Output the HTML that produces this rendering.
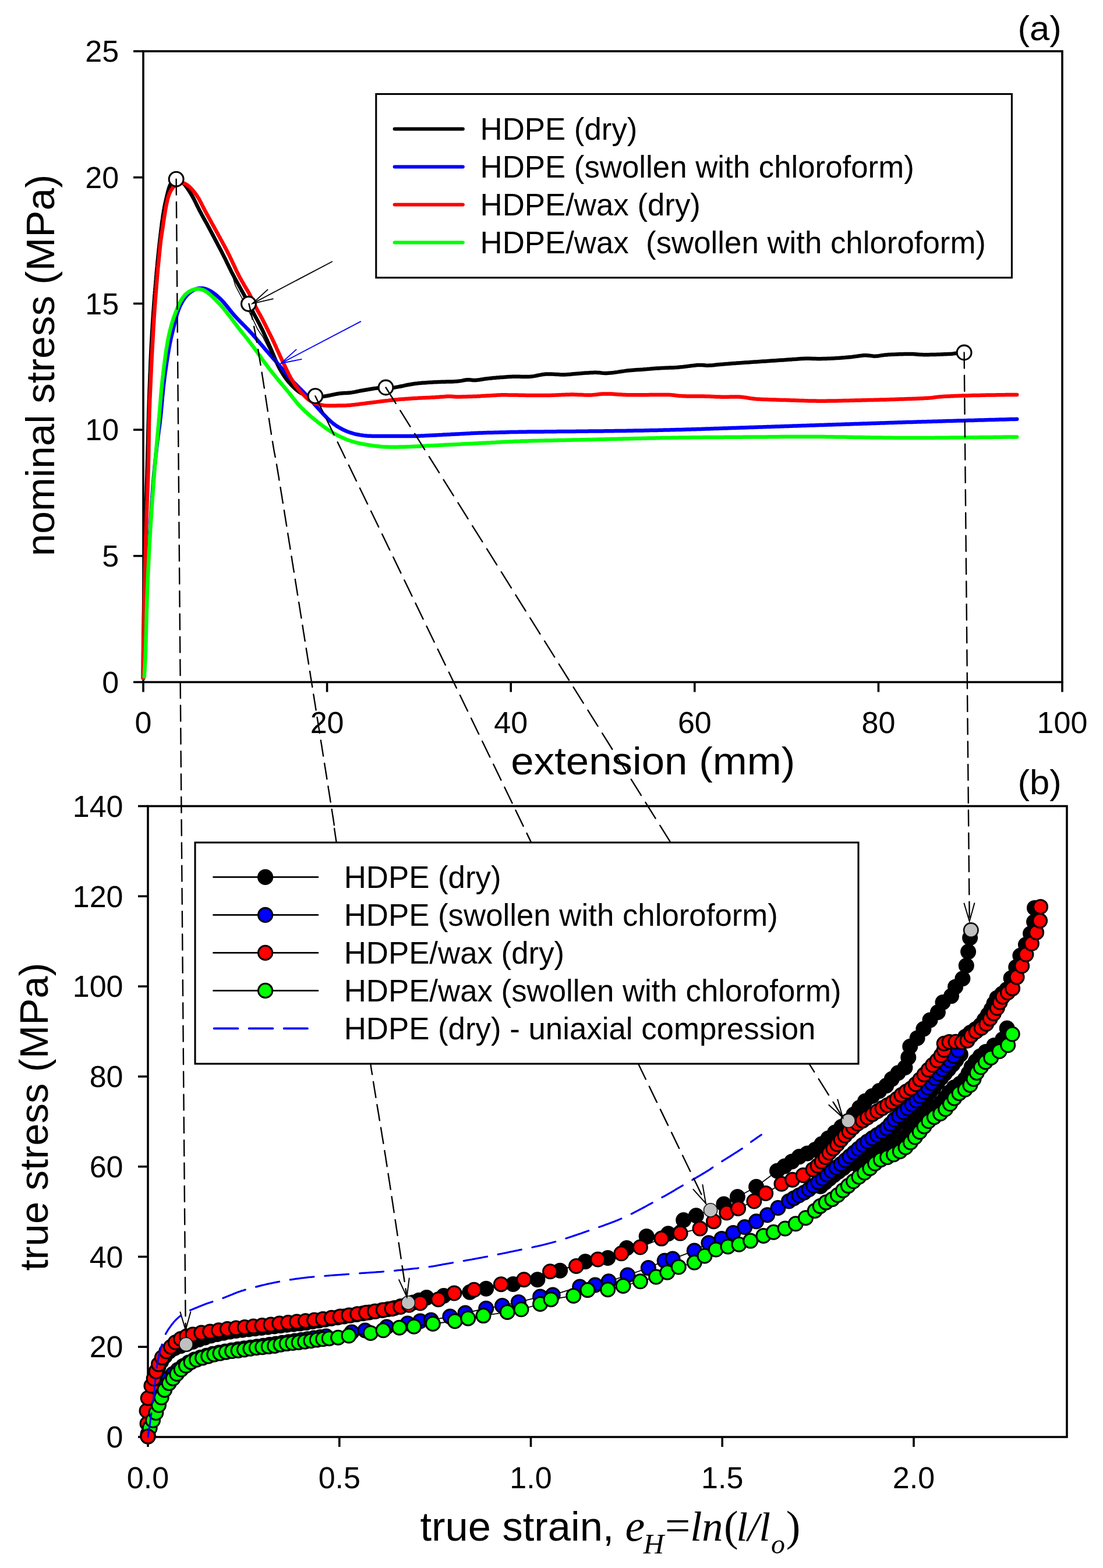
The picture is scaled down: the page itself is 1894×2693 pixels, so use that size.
<!DOCTYPE html><html><head><meta charset="utf-8"><title>Stress-strain curves of HDPE</title>
<style>html,body{margin:0;padding:0;background:#fff;}svg{display:block;}text{font-family:"Liberation Sans",Arial,sans-serif;fill:#000;}.serif{font-family:"Liberation Serif","Times New Roman",serif;}</style></head><body>
<svg width="1894" height="2693" viewBox="0 0 1894 2693">
<rect width="1894" height="2693" fill="#fff"/>
<g stroke="#000" stroke-width="3.6" fill="none" stroke-linecap="butt" stroke-linejoin="miter">
<rect x="246" y="88" width="1578" height="1083.5"/>
<line x1="229" y1="1171.5" x2="246" y2="1171.5"/>
<line x1="229" y1="954.8" x2="246" y2="954.8"/>
<line x1="229" y1="738.1" x2="246" y2="738.1"/>
<line x1="229" y1="521.4" x2="246" y2="521.4"/>
<line x1="229" y1="304.7" x2="246" y2="304.7"/>
<line x1="229" y1="88" x2="246" y2="88"/>
<line x1="246" y1="1171.5" x2="246" y2="1188.5"/>
<line x1="561.6" y1="1171.5" x2="561.6" y2="1188.5"/>
<line x1="877.2" y1="1171.5" x2="877.2" y2="1188.5"/>
<line x1="1192.8" y1="1171.5" x2="1192.8" y2="1188.5"/>
<line x1="1508.4" y1="1171.5" x2="1508.4" y2="1188.5"/>
<line x1="1824" y1="1171.5" x2="1824" y2="1188.5"/>
</g>
<path d="M245.7,1164.4 245.7,1161.4 245.7,1158.4 245.7,1155.4 245.7,1152.4 245.7,1149.4 245.8,1146.4 245.8,1143.4 245.8,1140.4 245.8,1137.4 245.8,1134.4 245.9,1131.4 245.9,1128.4 245.9,1125.4 245.9,1122.4 246,1119.4 246,1116.4 246.1,1113.4 246.1,1110.4 246.1,1107.4 246.2,1104.4 246.2,1101.4 246.3,1098.4 246.3,1095.4 246.3,1092.4 246.4,1089.4 246.4,1086.4 246.5,1083.4 246.5,1080.4 246.6,1077.4 246.6,1074.4 246.7,1071.4 246.7,1068.4 246.7,1065.4 246.8,1062.4 246.8,1059.4 246.9,1056.4 246.9,1053.4 247,1050.4 247,1047.4 247.1,1044.4 247.1,1041.4 247.2,1038.4 247.2,1035.4 247.3,1032.4 247.3,1029.4 247.4,1026.4 247.4,1023.4 247.5,1020.4 247.5,1017.4 247.6,1014.4 247.6,1011.4 247.7,1008.4 247.8,1005.4 247.8,1002.4 247.9,999.4 247.9,996.4 248,993.4 248,990.4 248.1,987.4 248.2,984.4 248.2,981.4 248.3,978.4 248.3,975.4 248.4,972.4 248.5,969.4 248.5,966.4 248.6,963.4 248.6,960.4 248.7,957.4 248.8,954.4 248.8,951.4 248.9,948.4 249,945.4 249,942.4 249.1,939.4 249.2,936.4 249.2,933.4 249.3,930.4 249.4,927.4 249.4,924.4 249.5,921.4 249.6,918.4 249.6,915.4 249.7,912.4 249.8,909.4 249.9,906.4 249.9,903.4 250,900.4 250.1,897.4 250.2,894.4 250.3,891.4 250.3,888.4 250.4,885.4 250.5,882.4 250.6,879.4 250.7,876.4 250.8,873.4 250.9,870.4 251,867.4 251,864.4 251.1,861.4 251.2,858.4 251.3,855.4 251.4,852.4 251.5,849.4 251.6,846.4 251.7,843.4 251.8,840.4 251.8,837.4 251.9,834.4 252,831.4 252.1,828.4 252.2,825.4 252.3,822.4 252.4,819.4 252.5,816.4 252.6,813.4 252.6,810.4 252.7,807.4 252.8,804.4 252.9,801.4 253,798.4 253,795.4 253.1,792.4 253.2,789.4 253.3,786.4 253.4,783.4 253.4,780.4 253.5,777.4 253.6,774.4 253.7,771.4 253.7,768.4 253.8,765.4 253.9,762.4 254,759.4 254,756.4 254.1,753.4 254.2,750.4 254.3,747.4 254.3,744.4 254.4,741.4 254.5,738.4 254.6,735.4 254.6,732.4 254.7,729.4 254.8,726.4 254.9,723.4 255,720.4 255.1,717.4 255.2,714.4 255.2,711.4 255.3,708.4 255.4,705.4 255.5,702.4 255.6,699.4 255.7,696.4 255.8,693.4 255.9,690.4 256,687.4 256.1,684.4 256.2,681.4 256.3,678.4 256.4,675.4 256.5,672.4 256.6,669.4 256.7,666.4 256.9,663.4 257,660.4 257.1,657.4 257.2,654.4 257.3,651.4 257.4,648.4 257.5,645.4 257.6,642.4 257.8,639.4 257.9,636.5 258,633.5 258.1,630.5 258.3,627.5 258.4,624.5 258.5,621.5 258.6,618.5 258.8,615.5 258.9,612.5 259,609.5 259.2,606.5 259.3,603.5 259.5,600.5 259.6,597.5 259.8,594.5 259.9,591.5 260.1,588.5 260.3,585.5 260.4,582.5 260.6,579.5 260.8,576.5 260.9,573.5 261.1,570.5 261.3,567.5 261.5,564.5 261.7,561.5 261.8,558.5 262,555.5 262.2,552.5 262.4,549.6 262.6,546.6 262.8,543.6 263,540.6 263.2,537.6 263.5,534.6 263.7,531.6 263.9,528.6 264.1,525.6 264.3,522.6 264.5,519.6 264.8,516.6 265,513.6 265.2,510.6 265.4,507.7 265.7,504.7 265.9,501.7 266.2,498.7 266.4,495.7 266.7,492.7 266.9,489.7 267.2,486.7 267.4,483.7 267.7,480.7 267.9,477.8 268.2,474.8 268.5,471.8 268.7,468.8 269,465.8 269.3,462.8 269.6,459.8 269.9,456.8 270.1,453.8 270.4,450.9 270.7,447.9 271,444.9 271.3,441.9 271.6,438.9 271.9,435.9 272.2,432.9 272.5,430 272.8,427 273.2,424 273.5,421 273.8,418 274.2,415 274.5,412.1 274.8,409.1 275.2,406.1 275.5,403.1 275.9,400.1 276.2,397.2 276.6,394.2 277,391.2 277.4,388.2 277.7,385.3 278.1,382.3 278.5,379.3 279,376.3 279.4,373.4 279.8,370.4 280.3,367.4 280.8,364.5 281.2,361.5 281.8,358.6 282.3,355.6 282.9,352.7 283.5,349.7 284.2,346.8 284.8,343.9 285.5,341 286.2,338 286.9,335.1 287.6,332.2 288.3,329.3 289.1,326.4 289.9,323.5 290.9,320.7 292,317.9 293.5,315.3 295.2,313 297.2,310.9 299.6,309.4 302.2,308.7 304.9,308.9 307.6,309.8 310.2,311.2 312.7,312.9 314.9,314.8 317,317 318.8,319.3 320.6,321.7 322.3,324.2 324,326.7 325.6,329.2 327.2,331.8 328.7,334.3 330.2,336.9 331.7,339.6 333.1,342.2 334.4,344.9 335.8,347.6 337.1,350.3 338.4,353 339.7,355.6 341.1,358.3 342.4,361 343.8,363.7 345.2,366.3 346.6,369 348.1,371.6 349.5,374.2 351,376.9 352.4,379.5 353.9,382.1 355.4,384.7 356.8,387.4 358.2,390 359.6,392.6 361,395.3 362.4,397.9 363.8,400.6 365.2,403.3 366.6,405.9 368,408.6 369.4,411.3 370.8,413.9 372.2,416.6 373.6,419.2 375,421.9 376.4,424.5 377.8,427.2 379.2,429.8 380.6,432.5 381.9,435.2 383.3,437.8 384.6,440.5 386,443.2 387.3,445.9 388.6,448.6 389.9,451.3 391.2,454 392.5,456.7 393.8,459.4 395.2,462.1 396.5,464.8 397.8,467.5 399.2,470.1 400.6,472.8 402,475.4 403.4,478.1 404.9,480.7 406.3,483.3 407.8,486 409.2,488.6 410.7,491.2 412.1,493.8 413.6,496.5 415,499.1 416.5,501.7 417.9,504.3 419.4,507 420.8,509.6 422.3,512.2 423.7,514.9 425.1,517.5 426.6,520.1 427.9,522.8 429.3,525.5 430.6,528.2 431.9,530.9 433.3,533.6 434.6,536.2 436,538.9 437.4,541.6 438.8,544.2 440.2,546.8 441.7,549.5 443.1,552.1 444.5,554.8 445.9,557.4 447.2,560.1 448.6,562.8 449.9,565.5 451.2,568.2 452.5,570.9 453.7,573.6 455,576.4 456.2,579.1 457.5,581.8 458.7,584.6 459.9,587.3 461.1,590.1 462.3,592.8 463.5,595.6 464.7,598.3 465.9,601.1 467.1,603.8 468.2,606.6 469.4,609.4 470.6,612.1 471.7,614.9 472.9,617.7 474.1,620.4 475.3,623.2 476.5,625.9 477.9,628.6 479.2,631.3 480.6,633.9 482.1,636.5 483.6,639.1 485.2,641.6 486.8,644.2 488.5,646.6 490.3,649.1 492,651.5 493.9,653.9 495.8,656.2 497.8,658.4 499.8,660.7 501.8,662.8 504,665 506.1,667 508.4,669 510.7,670.9 513.1,672.7 515.6,674.4 518.2,675.8 520.9,677.1 523.7,678.1 526.6,678.9 529.5,679.4 532.5,679.7 535.4,679.9 538.4,680.1 541.4,680.3 544.4,680.6 547.4,680.9 550.4,681 553.4,680.9 556.3,680.7 559.3,680.3 562.3,679.8 565.2,679.2 568.1,678.6 571.1,678 574,677.4 577,676.8 579.9,676.3 582.9,675.8 585.9,675.4 588.8,675.2 591.8,675.1 594.8,675 597.8,674.8 600.8,674.6 603.8,674.1 606.7,673.6 609.7,673.1 612.6,672.5 615.5,671.9 618.5,671.3 621.4,670.7 624.4,670.2 627.3,669.7 630.3,669.2 633.3,668.7 636.2,668.2 639.2,667.7 642.1,667.3 645.1,666.9 648.1,666.5 651.1,666.2 654.1,665.9 657.1,665.7 660.1,665.6 663.1,665.6 666,665.7 669,665.8 672,665.8 675,665.7 678,665.4 681,664.9 683.9,664.4 686.9,663.8 689.8,663.2 692.7,662.6 695.7,661.9 698.6,661.3 701.5,660.7 704.5,660.2 707.4,659.7 710.4,659.2 713.4,658.8 716.4,658.5 719.3,658.1 722.3,657.9 725.3,657.6 728.3,657.4 731.3,657.2 734.3,657 737.3,656.8 740.3,656.7 743.3,656.5 746.3,656.3 749.3,656.2 752.3,656 755.3,655.9 758.3,655.8 761.3,655.7 764.3,655.7 767.3,655.6 770.3,655.5 773.3,655.5 776.3,655.4 779.3,655.2 782.3,655.1 785.3,654.9 788.2,654.5 791.2,654.1 794.2,653.6 797.1,653 800,652.5 803,652.2 805.9,652.2 808.8,652.6 811.7,652.9 814.6,653.1 817.6,652.9 820.6,652.6 823.6,652.2 826.5,651.7 829.5,651.3 832.5,650.8 835.4,650.4 838.4,650.1 841.4,649.7 844.4,649.4 847.4,649.1 850.4,648.9 853.3,648.6 856.3,648.4 859.3,648.1 862.3,647.9 865.3,647.7 868.3,647.5 871.3,647.3 874.3,647.1 877.3,647 880.3,646.8 883.3,646.8 886.3,646.7 889.3,646.7 892.3,646.8 895.3,646.9 898.3,646.9 901.3,647 904.3,647 907.3,646.9 910.3,646.8 913.3,646.5 916.2,646.1 919.2,645.6 922.1,645 925.1,644.4 928,643.9 931,643.3 933.9,642.9 936.9,642.6 939.9,642.4 942.9,642.4 945.9,642.4 948.9,642.6 951.9,642.7 954.9,642.9 957.9,643.1 960.9,643.3 963.9,643.4 966.9,643.4 969.9,643.4 972.9,643.3 975.9,643.1 978.9,642.9 981.8,642.6 984.8,642.3 987.8,642 990.8,641.7 993.8,641.4 996.8,641.2 999.8,640.9 1002.8,640.7 1005.8,640.5 1008.7,640.4 1011.7,640.2 1014.7,640 1017.7,639.9 1020.7,639.8 1023.7,639.8 1026.7,639.9 1029.7,640.1 1032.7,640.5 1035.7,640.8 1038.6,641 1041.6,641 1044.6,640.8 1047.6,640.6 1050.6,640.2 1053.6,639.9 1056.5,639.5 1059.5,639.1 1062.5,638.6 1065.5,638.2 1068.4,637.8 1071.4,637.4 1074.4,636.9 1077.3,636.5 1080.3,636.2 1083.3,635.9 1086.3,635.7 1089.3,635.5 1092.3,635.3 1095.3,635.1 1098.3,634.9 1101.3,634.7 1104.3,634.5 1107.2,634.2 1110.2,634 1113.2,633.7 1116.2,633.5 1119.2,633.2 1122.2,633 1125.2,632.8 1128.2,632.6 1131.2,632.4 1134.2,632.2 1137.2,632.1 1140.2,631.9 1143.2,631.8 1146.2,631.7 1149.2,631.6 1152.2,631.5 1155.2,631.4 1158.2,631.2 1161.1,631.1 1164.1,630.9 1167.1,630.6 1170.1,630.3 1173.1,630 1176.1,629.6 1179.1,629.3 1182,628.9 1185,628.5 1188,628.1 1191,627.8 1193.9,627.4 1196.9,627.1 1199.9,626.9 1202.9,626.9 1205.9,627 1208.9,627.3 1211.8,627.6 1214.8,627.7 1217.8,627.6 1220.8,627.4 1223.8,627.2 1226.8,626.9 1229.7,626.6 1232.7,626.3 1235.7,626 1238.7,625.7 1241.7,625.5 1244.7,625.2 1247.7,625 1250.7,624.8 1253.7,624.5 1256.6,624.3 1259.6,624.1 1262.6,623.9 1265.6,623.6 1268.6,623.4 1271.6,623.2 1274.6,623 1277.6,622.8 1280.6,622.6 1283.6,622.4 1286.6,622.2 1289.6,622 1292.6,621.8 1295.6,621.6 1298.6,621.4 1301.5,621.2 1304.5,621 1307.5,620.8 1310.5,620.6 1313.5,620.4 1316.5,620.2 1319.5,620 1322.5,619.8 1325.5,619.6 1328.5,619.4 1331.5,619.2 1334.5,619 1337.5,618.8 1340.5,618.6 1343.5,618.4 1346.5,618.2 1349.5,618 1352.4,617.8 1355.4,617.6 1358.4,617.4 1361.4,617.1 1364.4,616.9 1367.4,616.7 1370.4,616.4 1373.4,616.2 1376.4,616 1379.4,615.9 1382.4,615.8 1385.4,615.7 1388.4,615.7 1391.4,615.8 1394.4,615.9 1397.4,616 1400.4,616.1 1403.4,616.2 1406.4,616.2 1409.4,616.2 1412.4,616.1 1415.4,616.1 1418.4,616 1421.4,615.8 1424.4,615.7 1427.4,615.6 1430.4,615.4 1433.4,615.3 1436.4,615.1 1439.3,614.9 1442.3,614.7 1445.3,614.5 1448.3,614.3 1451.3,614.1 1454.3,613.8 1457.3,613.5 1460.3,613.2 1463.3,612.9 1466.2,612.5 1469.2,612.1 1472.2,611.7 1475.2,611.3 1478.1,610.9 1481.1,610.6 1484.1,610.3 1487.1,610.3 1490.1,610.4 1493,610.7 1496,611.1 1499,611.5 1501.9,611.7 1504.9,611.6 1507.9,611.4 1510.8,610.9 1513.8,610.4 1516.8,610 1519.7,609.6 1522.7,609.4 1525.7,609.1 1528.7,609 1531.7,608.8 1534.7,608.7 1537.7,608.6 1540.7,608.4 1543.7,608.3 1546.7,608.2 1549.7,608.2 1552.7,608.1 1555.7,608 1558.7,608 1561.7,607.9 1564.7,608 1567.7,608 1570.7,608.2 1573.7,608.4 1576.7,608.7 1579.7,609 1582.7,609.1 1585.7,609.2 1588.6,609.3 1591.6,609.2 1594.6,609.2 1597.6,609.1 1600.6,609 1603.6,609 1606.6,608.9 1609.6,608.8 1612.6,608.7 1615.6,608.6 1618.6,608.4 1621.6,608.3 1624.6,608.2 1627.6,608.1 1630.6,607.9 1633.6,607.7 1636.6,607.4 1639.6,607 1642.5,606.6 1645.5,606.3 1648.5,606 1651.5,605.8 1654.5,605.7 1655.5,605.6" fill="none" stroke="#000" stroke-width="6.5" stroke-linejoin="round" stroke-linecap="round"/>
<path d="M246.3,1165 246.4,1162 246.5,1159 246.6,1156 246.7,1153 246.8,1150 246.9,1147 247,1144 247.1,1141 247.2,1138 247.3,1135 247.4,1132 247.5,1129 247.6,1126 247.7,1123 247.8,1120 247.9,1117 248,1114 248.1,1111 248.2,1108 248.3,1105 248.4,1102 248.5,1099 248.6,1096 248.8,1093 248.9,1090 249,1087 249.1,1084 249.2,1081 249.3,1078 249.4,1075 249.5,1072 249.6,1069 249.7,1066 249.8,1063 249.9,1060 250.1,1057 250.2,1054 250.3,1051 250.4,1048 250.5,1045 250.6,1042 250.8,1039 250.9,1036 251,1033 251.1,1030 251.2,1027 251.4,1024 251.5,1021 251.6,1018 251.8,1015 251.9,1012 252.1,1009 252.2,1006 252.3,1003 252.5,1000 252.6,997.1 252.8,994.1 252.9,991.1 253.1,988.1 253.3,985.1 253.4,982.1 253.6,979.1 253.7,976.1 253.9,973.1 254.1,970.1 254.2,967.1 254.4,964.1 254.6,961.1 254.7,958.1 254.9,955.1 255.1,952.1 255.3,949.1 255.4,946.1 255.6,943.1 255.8,940.1 256,937.1 256.1,934.1 256.3,931.1 256.5,928.1 256.7,925.1 256.9,922.1 257.1,919.1 257.2,916.1 257.4,913.2 257.6,910.2 257.8,907.2 258,904.2 258.2,901.2 258.3,898.2 258.5,895.2 258.7,892.2 258.9,889.2 259.1,886.2 259.3,883.2 259.5,880.2 259.7,877.2 259.9,874.2 260,871.2 260.2,868.2 260.4,865.2 260.6,862.2 260.8,859.2 261.1,856.2 261.3,853.2 261.5,850.3 261.7,847.3 261.9,844.3 262.1,841.3 262.4,838.3 262.6,835.3 262.8,832.3 263.1,829.3 263.3,826.3 263.6,823.3 263.8,820.3 264.1,817.3 264.4,814.4 264.6,811.4 264.9,808.4 265.2,805.4 265.5,802.4 265.8,799.4 266.1,796.4 266.4,793.4 266.7,790.5 267,787.5 267.3,784.5 267.6,781.5 268,778.5 268.3,775.5 268.6,772.6 268.9,769.6 269.3,766.6 269.6,763.6 270,760.6 270.3,757.6 270.7,754.7 271.1,751.7 271.5,748.7 271.9,745.7 272.3,742.8 272.7,739.8 273.1,736.8 273.6,733.9 274,730.9 274.4,727.9 274.7,724.9 275.1,722 275.4,719 275.8,716 276.1,713 276.4,710 276.7,707 276.9,704 277.2,701.1 277.5,698.1 277.8,695.1 278,692.1 278.3,689.1 278.6,686.1 278.8,683.1 279.1,680.1 279.4,677.1 279.7,674.2 280,671.2 280.3,668.2 280.6,665.2 280.9,662.2 281.3,659.2 281.6,656.3 282,653.3 282.4,650.3 282.7,647.3 283.1,644.3 283.5,641.4 283.9,638.4 284.4,635.4 284.8,632.5 285.2,629.5 285.6,626.5 286.1,623.5 286.5,620.6 287,617.6 287.5,614.6 287.9,611.7 288.4,608.7 288.9,605.8 289.4,602.8 289.9,599.8 290.4,596.9 291,593.9 291.5,591 292.1,588 292.7,585.1 293.4,582.2 294,579.2 294.7,576.3 295.4,573.4 296.1,570.5 296.8,567.6 297.5,564.7 298.3,561.8 299,558.8 299.7,555.9 300.5,553 301.2,550.1 302,547.2 302.7,544.3 303.5,541.4 304.4,538.6 305.3,535.7 306.3,532.9 307.4,530.1 308.5,527.3 309.7,524.6 311.1,521.9 312.5,519.3 314,516.7 315.6,514.2 317.3,511.7 319.1,509.4 321,507.1 323.1,505 325.3,503.1 327.6,501.2 330.1,499.6 332.6,498.1 335.2,496.9 337.9,495.9 340.7,495.2 343.6,494.9 346.4,494.9 349.3,495.3 352.1,495.9 354.9,496.8 357.6,497.9 360.2,499.3 362.8,500.7 365.3,502.4 367.7,504.1 370.1,505.9 372.4,507.8 374.6,509.8 376.8,511.8 379,513.9 381.1,516.1 383.1,518.2 385.1,520.5 387,522.8 388.9,525.1 390.8,527.4 392.7,529.8 394.5,532.1 396.4,534.4 398.3,536.8 400.3,539.1 402.2,541.3 404.2,543.6 406.2,545.8 408.3,548 410.4,550.1 412.4,552.3 414.5,554.4 416.7,556.6 418.8,558.7 420.9,560.8 423,563 425.1,565.1 427.2,567.3 429.2,569.5 431.3,571.7 433.3,573.9 435.2,576.2 437.2,578.4 439.2,580.7 441.1,583 443,585.3 445,587.6 446.9,589.9 448.9,592.1 450.8,594.4 452.8,596.7 454.7,599 456.7,601.3 458.7,603.5 460.6,605.8 462.6,608 464.6,610.3 466.6,612.6 468.5,614.8 470.5,617.1 472.5,619.3 474.4,621.6 476.4,623.9 478.3,626.2 480.3,628.5 482.2,630.8 484.2,633.1 486.1,635.3 488,637.6 490,639.9 491.9,642.2 493.8,644.5 495.8,646.8 497.7,649.1 499.7,651.3 501.7,653.6 503.7,655.8 505.8,658 507.9,660.1 510,662.3 512.1,664.4 514.2,666.5 516.4,668.6 518.5,670.7 520.6,672.9 522.7,675 524.7,677.2 526.8,679.4 528.8,681.6 530.8,683.9 532.8,686.1 534.7,688.4 536.7,690.6 538.7,692.9 540.7,695.2 542.7,697.4 544.7,699.6 546.7,701.9 548.7,704.1 550.7,706.3 552.8,708.5 554.8,710.7 556.9,712.9 558.9,715 561,717.2 563.1,719.3 565.3,721.4 567.5,723.4 569.8,725.4 572.1,727.3 574.5,729.1 576.9,730.8 579.4,732.5 581.9,734 584.5,735.5 587.2,736.9 589.8,738.3 592.5,739.5 595.3,740.7 598.1,741.8 600.9,742.8 603.8,743.7 606.6,744.5 609.5,745.3 612.4,746 615.4,746.5 618.3,747.1 621.3,747.5 624.3,747.9 627.2,748.2 630.2,748.5 633.2,748.7 636.2,748.8 639.2,748.9 642.2,749 645.2,749.1 648.2,749.1 651.2,749.1 654.2,749.1 657.2,749.1 660.2,749.1 663.2,749.1 666.2,749.1 669.2,749.1 672.2,749.1 675.2,749.1 678.2,749.1 681.2,749.1 684.2,749.1 687.2,749.1 690.2,749.1 693.2,749.1 696.2,749.1 699.2,749.1 702.2,749.1 705.2,749.1 708.2,749 711.2,748.9 714.2,748.9 717.2,748.8 720.2,748.7 723.2,748.5 726.2,748.4 729.2,748.3 732.2,748.1 735.2,748 738.2,747.8 741.2,747.7 744.2,747.5 747.2,747.4 750.2,747.2 753.2,747.1 756.2,746.9 759.2,746.8 762.2,746.6 765.2,746.5 768.2,746.3 771.2,746.2 774.2,746 777.2,745.8 780.2,745.7 783.2,745.5 786.2,745.4 789.2,745.2 792.2,745.1 795.2,744.9 798.2,744.7 801.2,744.6 804.2,744.4 807.2,744.3 810.2,744.1 813.2,744 816.2,743.8 819.2,743.7 822.1,743.6 825.1,743.5 828.1,743.4 831.1,743.3 834.1,743.2 837.1,743.1 840.1,743 843.1,743 846.1,742.9 849.1,742.8 852.1,742.8 855.2,742.7 858.2,742.6 861.2,742.5 864.2,742.5 867.2,742.4 870.2,742.3 873.2,742.2 876.2,742.1 879.2,742.1 882.2,742 885.2,741.9 888.2,741.9 891.2,741.8 894.2,741.8 897.2,741.7 900.2,741.7 903.2,741.7 906.2,741.6 909.2,741.6 912.2,741.6 915.2,741.5 918.2,741.5 921.2,741.5 924.2,741.4 927.2,741.4 930.2,741.4 933.2,741.4 936.2,741.3 939.2,741.3 942.2,741.3 945.2,741.2 948.2,741.2 951.2,741.2 954.2,741.2 957.2,741.1 960.2,741.1 963.2,741.1 966.2,741 969.2,741 972.2,741 975.2,741 978.2,740.9 981.2,740.9 984.2,740.9 987.2,740.9 990.2,740.8 993.2,740.8 996.2,740.8 999.2,740.7 1002.2,740.7 1005.2,740.7 1008.2,740.7 1011.2,740.6 1014.2,740.6 1017.2,740.6 1020.2,740.5 1023.2,740.5 1026.2,740.5 1029.2,740.4 1032.2,740.4 1035.2,740.4 1038.2,740.3 1041.2,740.3 1044.2,740.3 1047.2,740.2 1050.2,740.2 1053.2,740.2 1056.2,740.1 1059.2,740.1 1062.2,740 1065.2,740 1068.2,740 1071.2,739.9 1074.2,739.9 1077.2,739.8 1080.2,739.8 1083.2,739.7 1086.2,739.7 1089.2,739.6 1092.2,739.6 1095.2,739.5 1098.2,739.5 1101.2,739.4 1104.2,739.4 1107.2,739.3 1110.2,739.3 1113.2,739.2 1116.2,739.1 1119.2,739.1 1122.2,739 1125.2,739 1128.2,738.9 1131.2,738.8 1134.2,738.8 1137.2,738.7 1140.2,738.6 1143.2,738.6 1146.2,738.5 1149.2,738.4 1152.2,738.3 1155.2,738.3 1158.2,738.2 1161.2,738.1 1164.2,738 1167.2,737.9 1170.2,737.9 1173.2,737.8 1176.2,737.7 1179.2,737.6 1182.2,737.5 1185.2,737.4 1188.2,737.3 1191.2,737.3 1194.2,737.2 1197.2,737.1 1200.2,737 1203.2,736.9 1206.2,736.8 1209.2,736.7 1212.2,736.6 1215.2,736.5 1218.2,736.4 1221.2,736.3 1224.2,736.2 1227.2,736.1 1230.2,736 1233.2,735.9 1236.2,735.8 1239.2,735.7 1242.2,735.6 1245.2,735.5 1248.2,735.4 1251.2,735.3 1254.2,735.2 1257.2,735.1 1260.2,735 1263.2,734.9 1266.2,734.8 1269.2,734.7 1272.2,734.6 1275.2,734.5 1278.2,734.4 1281.2,734.3 1284.2,734.2 1287.2,734.1 1290.2,734 1293.2,733.9 1296.2,733.8 1299.2,733.7 1302.2,733.6 1305.2,733.5 1308.2,733.4 1311.2,733.3 1314.2,733.2 1317.2,733.1 1320.2,733 1323.2,732.9 1326.2,732.8 1329.2,732.7 1332.2,732.6 1335.2,732.5 1338.2,732.4 1341.2,732.3 1344.2,732.2 1347.2,732.1 1350.2,732 1353.2,731.9 1356.2,731.8 1359.2,731.7 1362.2,731.6 1365.2,731.5 1368.2,731.4 1371.2,731.3 1374.2,731.2 1377.2,731.1 1380.2,731 1383.2,730.9 1386.2,730.8 1389.2,730.7 1392.2,730.6 1395.2,730.5 1398.2,730.4 1401.2,730.3 1404.2,730.2 1407.2,730.1 1410.2,730 1413.2,729.9 1416.2,729.8 1419.2,729.7 1422.2,729.6 1425.2,729.5 1428.2,729.4 1431.2,729.3 1434.2,729.2 1437.2,729.1 1440.2,729 1443.2,728.9 1446.2,728.8 1449.2,728.7 1452.2,728.6 1455.2,728.5 1458.2,728.4 1461.2,728.3 1464.2,728.2 1467.2,728.1 1470.2,728 1473.2,727.9 1476.2,727.8 1479.2,727.7 1482.2,727.6 1485.2,727.5 1488.2,727.4 1491.2,727.3 1494.2,727.2 1497.2,727.1 1500.2,727 1503.2,726.9 1506.2,726.8 1509.2,726.7 1512.2,726.6 1515.2,726.5 1518.2,726.4 1521.2,726.3 1524.2,726.2 1527.2,726.1 1530.2,726 1533.2,725.9 1536.2,725.8 1539.2,725.7 1542.2,725.6 1545.2,725.5 1548.2,725.4 1551.2,725.3 1554.2,725.2 1557.2,725.1 1560.2,725.1 1563.2,725 1566.2,724.9 1569.2,724.8 1572.2,724.7 1575.2,724.6 1578.2,724.5 1581.2,724.4 1584.2,724.3 1587.2,724.3 1590.2,724.2 1593.2,724.1 1596.2,724 1599.2,723.9 1602.2,723.8 1605.2,723.7 1608.2,723.7 1611.2,723.6 1614.2,723.5 1617.2,723.4 1620.2,723.3 1623.2,723.2 1626.2,723.1 1629.2,723.1 1632.2,723 1635.2,722.9 1638.2,722.8 1641.2,722.7 1644.2,722.6 1647.2,722.6 1650.2,722.5 1653.2,722.4 1656.2,722.3 1659.2,722.2 1662.2,722.1 1665.2,722.1 1668.2,722 1671.2,721.9 1674.2,721.8 1677.2,721.7 1680.2,721.6 1683.2,721.6 1686.2,721.5 1689.2,721.4 1692.2,721.3 1695.2,721.2 1698.2,721.1 1701.2,721.1 1704.2,721 1707.2,720.9 1710.2,720.8 1713.2,720.7 1716.2,720.6 1719.2,720.6 1722.2,720.5 1725.2,720.4 1728.2,720.3 1731.2,720.2 1734.2,720.1 1737.2,720.1 1740.2,720 1743.2,719.9 1746.2,719.8" fill="none" stroke="#00f" stroke-width="6.5" stroke-linejoin="round" stroke-linecap="round"/>
<path d="M245.7,1164.4 245.7,1161.4 245.8,1158.4 245.8,1155.4 245.8,1152.4 245.9,1149.4 245.9,1146.4 245.9,1143.4 246,1140.4 246,1137.4 246,1134.4 246.1,1131.4 246.1,1128.4 246.2,1125.4 246.2,1122.4 246.3,1119.4 246.3,1116.4 246.4,1113.4 246.4,1110.4 246.5,1107.4 246.6,1104.4 246.6,1101.4 246.7,1098.4 246.7,1095.4 246.8,1092.4 246.8,1089.4 246.9,1086.4 247,1083.4 247,1080.4 247.1,1077.4 247.1,1074.4 247.2,1071.4 247.3,1068.4 247.3,1065.4 247.4,1062.4 247.4,1059.4 247.5,1056.4 247.6,1053.4 247.6,1050.4 247.7,1047.4 247.7,1044.4 247.8,1041.4 247.9,1038.4 247.9,1035.4 248,1032.4 248.1,1029.4 248.1,1026.4 248.2,1023.4 248.3,1020.4 248.3,1017.4 248.4,1014.4 248.5,1011.4 248.5,1008.4 248.6,1005.4 248.6,1002.4 248.7,999.4 248.8,996.4 248.8,993.4 248.9,990.4 249,987.4 249,984.4 249.1,981.4 249.2,978.4 249.2,975.4 249.3,972.4 249.4,969.4 249.4,966.4 249.5,963.4 249.6,960.4 249.6,957.4 249.7,954.4 249.8,951.4 249.9,948.4 249.9,945.4 250,942.4 250.1,939.4 250.1,936.4 250.2,933.4 250.3,930.4 250.4,927.4 250.5,924.4 250.5,921.4 250.6,918.4 250.7,915.4 250.8,912.4 250.9,909.4 251,906.4 251.1,903.4 251.2,900.4 251.3,897.4 251.4,894.4 251.5,891.4 251.6,888.4 251.7,885.4 251.8,882.4 251.9,879.4 252,876.4 252.2,873.4 252.3,870.4 252.4,867.4 252.5,864.4 252.6,861.4 252.8,858.4 252.9,855.4 253,852.4 253.1,849.4 253.2,846.4 253.3,843.4 253.5,840.4 253.6,837.4 253.7,834.4 253.8,831.4 253.9,828.5 254,825.5 254.1,822.5 254.2,819.5 254.3,816.5 254.4,813.5 254.5,810.5 254.6,807.5 254.7,804.5 254.8,801.5 254.9,798.5 254.9,795.5 255,792.5 255.1,789.5 255.1,786.5 255.2,783.5 255.2,780.5 255.3,777.5 255.3,774.5 255.4,771.5 255.4,768.5 255.5,765.5 255.5,762.5 255.5,759.5 255.6,756.5 255.6,753.5 255.7,750.5 255.7,747.5 255.7,744.5 255.8,741.5 255.8,738.5 255.9,735.5 255.9,732.5 256,729.5 256,726.5 256.1,723.5 256.2,720.5 256.3,717.5 256.4,714.5 256.4,711.5 256.5,708.5 256.6,705.5 256.7,702.5 256.9,699.5 257,696.5 257.1,693.5 257.2,690.5 257.3,687.5 257.4,684.5 257.6,681.5 257.7,678.5 257.8,675.5 258,672.5 258.1,669.5 258.2,666.5 258.4,663.5 258.5,660.5 258.6,657.5 258.8,654.5 258.9,651.5 259,648.5 259.2,645.5 259.3,642.5 259.5,639.5 259.6,636.5 259.7,633.5 259.9,630.5 260,627.5 260.2,624.5 260.3,621.5 260.5,618.5 260.6,615.5 260.8,612.5 261,609.5 261.1,606.5 261.3,603.6 261.4,600.6 261.6,597.6 261.8,594.6 261.9,591.6 262.1,588.6 262.3,585.6 262.4,582.6 262.6,579.6 262.8,576.6 262.9,573.6 263.1,570.6 263.3,567.6 263.4,564.6 263.6,561.6 263.8,558.6 264,555.6 264.2,552.6 264.3,549.6 264.5,546.6 264.7,543.6 264.9,540.6 265.1,537.7 265.3,534.7 265.5,531.7 265.7,528.7 265.9,525.7 266.2,522.7 266.4,519.7 266.6,516.7 266.8,513.7 267.1,510.7 267.3,507.7 267.5,504.7 267.8,501.7 268,498.8 268.3,495.8 268.5,492.8 268.7,489.8 269,486.8 269.2,483.8 269.5,480.8 269.7,477.8 270,474.8 270.2,471.8 270.5,468.9 270.8,465.9 271,462.9 271.3,459.9 271.6,456.9 271.9,453.9 272.2,450.9 272.5,447.9 272.8,445 273.1,442 273.5,439 273.7,436 274,433 274.3,430 274.6,427 274.9,424.1 275.2,421.1 275.5,418.1 275.9,415.1 276.2,412.1 276.6,409.2 277.1,406.2 277.5,403.2 278,400.3 278.4,397.3 278.9,394.3 279.3,391.4 279.8,388.4 280.2,385.4 280.6,382.5 281.1,379.5 281.5,376.5 281.9,373.5 282.4,370.6 282.9,367.6 283.4,364.7 283.9,361.7 284.4,358.7 284.9,355.8 285.5,352.8 286.1,349.9 286.7,347 287.4,344 288.1,341.1 288.9,338.2 289.8,335.4 290.9,332.6 292.1,329.9 293.5,327.2 295.1,324.7 296.8,322.3 298.8,320.1 301,318 303.3,316.3 305.9,315 308.7,314.1 311.6,313.9 314.4,314.2 317.1,315.2 319.7,316.6 322.2,318.3 324.5,320.1 326.7,322.2 328.8,324.3 330.8,326.6 332.7,328.9 334.6,331.2 336.4,333.6 338.1,336 339.7,338.6 341.3,341.1 342.7,343.8 344.1,346.4 345.5,349.1 346.9,351.7 348.3,354.4 349.6,357.1 351,359.7 352.4,362.4 353.8,365 355.2,367.7 356.7,370.3 358.1,372.9 359.6,375.6 361,378.2 362.5,380.8 363.9,383.5 365.4,386.1 366.8,388.7 368.3,391.3 369.7,394 371.2,396.6 372.6,399.2 374.1,401.8 375.5,404.5 377,407.1 378.4,409.7 379.8,412.4 381.3,415 382.7,417.7 384.1,420.3 385.5,422.9 387,425.6 388.4,428.2 389.8,430.9 391.1,433.6 392.5,436.2 393.8,438.9 395.1,441.6 396.4,444.3 397.7,447 399,449.7 400.2,452.5 401.5,455.2 402.8,457.9 404,460.6 405.3,463.4 406.6,466.1 407.9,468.8 409.3,471.4 410.6,474.1 412,476.8 413.5,479.4 414.9,482 416.4,484.6 417.9,487.2 419.4,489.8 420.9,492.4 422.5,495 424,497.6 425.6,500.1 427.1,502.7 428.5,505.3 429.9,508 431.3,510.7 432.6,513.4 433.8,516.1 435.1,518.8 436.4,521.5 437.7,524.3 439,526.9 440.4,529.6 441.8,532.2 443.2,534.9 444.7,537.5 446.2,540.1 447.7,542.7 449.1,545.4 450.5,548 451.8,550.7 453.2,553.4 454.5,556 455.9,558.7 457.2,561.4 458.5,564.1 459.9,566.8 461.2,569.5 462.6,572.2 463.9,574.8 465.3,577.5 466.6,580.2 467.9,582.9 469.2,585.6 470.5,588.3 471.7,591 473,593.8 474.2,596.5 475.4,599.3 476.7,602 477.9,604.7 479.2,607.4 480.4,610.2 481.7,612.9 482.9,615.6 484.2,618.3 485.5,621 486.8,623.8 488.1,626.5 489.4,629.2 490.7,631.9 492,634.6 493.3,637.3 494.6,640 495.9,642.7 497.3,645.3 498.7,648 500.2,650.6 501.7,653.2 503.3,655.7 504.9,658.3 506.5,660.8 508.2,663.2 510,665.6 511.9,668 513.8,670.3 515.8,672.6 517.8,674.8 519.9,677 521.9,679.1 524.1,681.2 526.2,683.3 528.5,685.2 530.9,687.1 533.4,688.7 536,690.2 538.6,691.6 541.4,692.7 544.2,693.7 547.1,694.5 550,695.1 553,695.7 555.9,696.2 558.9,696.5 561.9,696.7 564.9,696.8 567.9,696.8 570.9,696.8 573.9,696.7 576.9,696.7 579.9,696.6 582.9,696.6 585.9,696.5 588.9,696.5 591.9,696.4 594.9,696.3 597.9,696.1 600.9,695.9 603.8,695.6 606.8,695.2 609.8,694.9 612.8,694.5 615.8,694.2 618.7,693.8 621.7,693.4 624.7,693.1 627.7,692.7 630.7,692.3 633.6,691.9 636.6,691.6 639.6,691.2 642.6,690.8 645.5,690.5 648.5,690.1 651.5,689.7 654.5,689.3 657.4,688.9 660.4,688.6 663.4,688.2 666.4,687.9 669.4,687.5 672.3,687.2 675.3,686.9 678.3,686.6 681.3,686.4 684.3,686.1 687.3,685.8 690.3,685.6 693.3,685.4 696.3,685.1 699.3,684.9 702.2,684.7 705.2,684.5 708.2,684.3 711.2,684.1 714.2,683.9 717.2,683.8 720.2,683.6 723.2,683.4 726.2,683.3 729.2,683.2 732.2,683 735.2,682.9 738.2,682.7 741.2,682.6 744.2,682.4 747.2,682.3 750.2,682.1 753.2,681.9 756.2,681.6 759.2,681.4 762.1,681.2 765.1,680.9 768.1,680.8 771.1,680.7 774.1,680.8 777.1,681 780.1,681.2 783.1,681.4 786.1,681.4 789.1,681.4 792.1,681.4 795.1,681.3 798.1,681.3 801.1,681.2 804.1,681.1 807.1,681 810.1,680.9 813.1,680.8 816.1,680.7 819.1,680.6 822.1,680.4 825.1,680.3 828.1,680.1 831.1,680 834.1,679.8 837.1,679.6 840.1,679.4 843,679.2 846,679.1 849,678.9 852,678.7 855,678.5 858,678.4 861,678.3 864,678.3 867,678.2 870,678.3 873,678.4 876,678.4 879,678.5 882,678.5 885,678.6 888,678.6 891,678.7 894,678.7 897,678.8 900,678.8 903,678.9 906,678.9 909,678.9 912,679 915,679 918,679.1 921,679.1 924,679.1 927,679.1 930,679.1 933,679.1 936,679.1 939,679 942,679 945,678.9 948,678.8 951,678.7 954,678.6 957,678.4 960,678.3 963,678.2 966,678 969,677.9 972,677.8 975,677.7 978,677.7 981,677.6 984,677.6 987,677.7 990,677.8 993,677.9 996,678 999,678.1 1002,678.3 1005,678.4 1008,678.4 1011,678.5 1014,678.4 1017,678.3 1020,678.1 1023,677.8 1025.9,677.4 1028.9,677.1 1031.9,676.8 1034.9,676.6 1037.9,676.4 1040.9,676.4 1043.9,676.4 1046.9,676.5 1049.9,676.6 1052.9,676.8 1055.9,677 1058.9,677.2 1061.9,677.4 1064.9,677.6 1067.9,677.8 1070.8,678 1073.8,678.1 1076.8,678.2 1079.8,678.3 1082.8,678.3 1085.8,678.3 1088.8,678.3 1091.8,678.3 1094.8,678.3 1097.8,678.3 1100.8,678.3 1103.8,678.3 1106.8,678.2 1109.8,678.2 1112.8,678.2 1115.8,678.1 1118.8,678.1 1121.8,678.1 1124.8,678 1127.8,678 1130.8,678 1133.8,678 1136.9,677.9 1139.9,677.9 1142.9,678 1145.9,678 1148.8,678.1 1151.8,678.2 1154.8,678.5 1157.8,678.8 1160.8,679.2 1163.8,679.6 1166.7,679.9 1169.7,680.1 1172.7,680.3 1175.7,680.3 1178.7,680.4 1181.7,680.4 1184.7,680.5 1187.7,680.5 1190.7,680.5 1193.7,680.5 1196.7,680.5 1199.7,680.6 1202.7,680.6 1205.7,680.6 1208.7,680.6 1211.7,680.7 1214.7,680.7 1217.7,680.8 1220.7,680.9 1223.7,681.1 1226.7,681.2 1229.7,681.4 1232.7,681.5 1235.7,681.6 1238.7,681.7 1241.7,681.8 1244.7,681.8 1247.7,681.8 1250.7,681.7 1253.7,681.6 1256.7,681.6 1259.7,681.5 1262.7,681.5 1265.7,681.6 1268.7,681.6 1271.7,681.8 1274.7,682 1277.7,682.4 1280.6,682.8 1283.6,683.3 1286.5,683.7 1289.5,684.2 1292.5,684.6 1295.5,684.9 1298.5,685.2 1301.5,685.4 1304.4,685.6 1307.4,685.7 1310.4,685.9 1313.4,686 1316.4,686.1 1319.4,686.2 1322.4,686.3 1325.4,686.4 1328.4,686.5 1331.4,686.6 1334.4,686.7 1337.4,686.8 1340.4,686.9 1343.4,687 1346.4,687 1349.4,687.1 1352.4,687.2 1355.4,687.3 1358.4,687.4 1361.4,687.5 1364.4,687.6 1367.4,687.7 1370.4,687.8 1373.4,687.9 1376.4,688 1379.4,688.1 1382.4,688.2 1385.4,688.3 1388.4,688.4 1391.4,688.5 1394.4,688.5 1397.4,688.6 1400.4,688.6 1403.4,688.7 1406.4,688.7 1409.4,688.7 1412.4,688.7 1415.4,688.7 1418.4,688.7 1421.4,688.6 1424.4,688.6 1427.4,688.5 1430.4,688.5 1433.4,688.4 1436.4,688.4 1439.4,688.3 1442.4,688.3 1445.4,688.2 1448.4,688.1 1451.4,688 1454.4,688 1457.4,687.9 1460.4,687.8 1463.4,687.7 1466.4,687.7 1469.4,687.6 1472.4,687.5 1475.4,687.4 1478.4,687.4 1481.4,687.3 1484.4,687.2 1487.4,687.2 1490.4,687.1 1493.4,687 1496.4,687 1499.4,686.9 1502.4,686.8 1505.4,686.7 1508.4,686.7 1511.4,686.6 1514.4,686.5 1517.4,686.5 1520.4,686.4 1523.4,686.3 1526.4,686.2 1529.4,686.1 1532.4,686 1535.4,685.9 1538.4,685.8 1541.4,685.7 1544.4,685.6 1547.4,685.5 1550.4,685.4 1553.4,685.3 1556.4,685.2 1559.4,685.1 1562.4,685 1565.4,684.9 1568.4,684.8 1571.4,684.7 1574.4,684.6 1577.4,684.4 1580.4,684.3 1583.4,684.2 1586.4,684 1589.4,683.8 1592.4,683.7 1595.4,683.4 1598.3,683.2 1601.3,682.9 1604.3,682.5 1607.3,682.1 1610.3,681.8 1613.2,681.4 1616.2,681.2 1619.2,681 1622.2,680.8 1625.2,680.7 1628.2,680.5 1631.2,680.4 1634.2,680.3 1637.2,680.2 1640.2,680 1643.2,679.9 1646.2,679.8 1649.2,679.7 1652.2,679.6 1655.2,679.6 1658.2,679.5 1661.2,679.4 1664.2,679.3 1667.2,679.2 1670.2,679.1 1673.2,679.1 1676.2,679 1679.2,678.9 1682.2,678.9 1685.2,678.8 1688.2,678.7 1691.2,678.7 1694.2,678.6 1697.2,678.6 1700.2,678.5 1703.2,678.5 1706.2,678.4 1709.2,678.4 1712.2,678.3 1715.2,678.3 1718.2,678.3 1721.2,678.2 1724.2,678.2 1727.2,678.1 1730.2,678.1 1733.2,678.1 1736.2,678 1739.2,678 1742.2,678 1745.2,677.9 1746.2,677.9" fill="none" stroke="#f00" stroke-width="6.5" stroke-linejoin="round" stroke-linecap="round"/>
<path d="M247.8,1162 248,1159 248.1,1156 248.3,1153 248.5,1150 248.7,1147 248.8,1144 249,1141 249.1,1138 249.3,1135 249.4,1132 249.6,1129 249.7,1126 249.8,1123 249.9,1120 250,1117 250.1,1114.1 250.2,1111.1 250.3,1108.1 250.4,1105.1 250.5,1102.1 250.6,1099.1 250.6,1096.1 250.7,1093.1 250.8,1090.1 250.9,1087.1 251,1084.1 251,1081.1 251.1,1078.1 251.2,1075.1 251.3,1072.1 251.3,1069.1 251.4,1066.1 251.5,1063.1 251.6,1060.1 251.6,1057.1 251.7,1054.1 251.8,1051.1 251.9,1048.1 252,1045.1 252.1,1042.1 252.2,1039.1 252.2,1036.1 252.3,1033.1 252.4,1030.1 252.5,1027.1 252.6,1024.1 252.7,1021.1 252.9,1018.1 253,1015.1 253.1,1012.1 253.2,1009.1 253.3,1006.1 253.4,1003.1 253.6,1000.1 253.7,997.1 253.8,994.1 254,991.1 254.1,988.1 254.2,985.1 254.4,982.1 254.5,979.1 254.6,976.1 254.8,973.1 254.9,970.1 255.1,967.1 255.2,964.1 255.3,961.1 255.5,958.1 255.7,955.1 255.8,952.1 256,949.1 256.1,946.1 256.3,943.1 256.4,940.1 256.6,937.2 256.8,934.2 256.9,931.2 257.1,928.2 257.3,925.2 257.4,922.2 257.6,919.2 257.8,916.2 258,913.2 258.1,910.2 258.3,907.2 258.5,904.2 258.7,901.2 258.9,898.2 259.1,895.2 259.3,892.2 259.5,889.2 259.7,886.2 259.9,883.2 260.1,880.2 260.3,877.3 260.5,874.3 260.7,871.3 260.9,868.3 261.1,865.3 261.3,862.3 261.5,859.3 261.7,856.3 262,853.3 262.2,850.3 262.4,847.3 262.6,844.3 262.8,841.3 263.1,838.3 263.3,835.4 263.5,832.4 263.7,829.4 264,826.4 264.2,823.4 264.4,820.4 264.6,817.4 264.9,814.4 265.1,811.4 265.3,808.4 265.6,805.4 265.8,802.4 266,799.5 266.3,796.5 266.5,793.5 266.8,790.5 267,787.5 267.3,784.5 267.5,781.5 267.8,778.5 268,775.5 268.3,772.5 268.5,769.6 268.8,766.6 269.1,763.6 269.3,760.6 269.6,757.6 269.8,754.6 270.1,751.6 270.4,748.6 270.6,745.6 270.9,742.7 271.2,739.7 271.4,736.7 271.7,733.7 272,730.7 272.2,727.7 272.5,724.7 272.7,721.7 273,718.7 273.3,715.8 273.5,712.8 273.8,709.8 274,706.8 274.3,703.8 274.5,700.8 274.7,697.8 275,694.8 275.2,691.8 275.5,688.8 275.7,685.9 276,682.9 276.2,679.9 276.5,676.9 276.8,673.9 277,670.9 277.3,667.9 277.6,664.9 277.9,662 278.2,659 278.5,656 278.8,653 279.2,650 279.5,647 279.9,644.1 280.2,641.1 280.5,638.1 280.9,635.1 281.3,632.1 281.6,629.2 282,626.2 282.4,623.2 282.8,620.2 283.2,617.3 283.6,614.3 284,611.3 284.4,608.3 284.8,605.4 285.2,602.4 285.7,599.4 286.2,596.5 286.7,593.5 287.2,590.6 287.7,587.6 288.2,584.6 288.8,581.7 289.4,578.8 290,575.8 290.7,572.9 291.4,570 292.1,567.1 292.8,564.2 293.6,561.3 294.3,558.4 295.2,555.5 296,552.6 296.9,549.7 297.8,546.9 298.8,544.1 299.8,541.2 300.9,538.4 302,535.6 303.1,532.8 304.2,530.1 305.4,527.3 306.6,524.6 307.8,521.8 309.2,519.2 310.6,516.5 312.1,514 313.7,511.5 315.5,509.1 317.4,506.9 319.5,504.8 321.7,502.9 324.1,501.2 326.6,499.8 329.2,498.5 332,497.5 334.8,496.8 337.6,496.3 340.4,496.2 343.2,496.5 346,497.1 348.7,498 351.4,499.3 353.9,500.7 356.3,502.4 358.6,504.2 360.9,506.2 363.1,508.2 365.2,510.2 367.4,512.3 369.5,514.4 371.6,516.6 373.7,518.7 375.8,520.9 377.9,523 379.9,525.3 381.9,527.5 383.8,529.8 385.7,532.1 387.6,534.5 389.4,536.8 391.3,539.2 393.1,541.6 394.9,543.9 396.8,546.3 398.6,548.7 400.4,551.1 402.2,553.5 404,555.9 405.8,558.3 407.6,560.7 409.4,563.1 411.3,565.4 413.1,567.8 415,570.1 416.9,572.5 418.8,574.8 420.7,577.1 422.6,579.5 424.4,581.8 426.3,584.2 428.1,586.6 429.9,588.9 431.7,591.3 433.5,593.7 435.3,596.2 437.1,598.6 438.8,601 440.6,603.4 442.4,605.9 444.1,608.3 445.8,610.7 447.6,613.2 449.3,615.6 451.1,618.1 452.9,620.5 454.6,622.9 456.4,625.3 458.2,627.7 460,630.1 461.8,632.5 463.7,634.9 465.5,637.2 467.4,639.6 469.2,642 471.1,644.3 473,646.6 474.9,649 476.8,651.3 478.7,653.6 480.6,655.9 482.5,658.2 484.5,660.5 486.4,662.8 488.4,665.1 490.3,667.4 492.2,669.7 494.1,672 496,674.3 497.9,676.7 499.7,679 501.6,681.4 503.4,683.7 505.3,686.1 507.2,688.4 509.1,690.7 511,693 513,695.3 515,697.5 517.1,699.7 519.2,701.8 521.3,703.9 523.5,706 525.7,708 527.9,710 530.2,712 532.4,714 534.7,715.9 537,717.8 539.3,719.8 541.6,721.7 544,723.5 546.3,725.4 548.7,727.3 551.1,729.1 553.4,730.9 555.8,732.7 558.3,734.5 560.7,736.2 563.2,737.9 565.7,739.6 568.2,741.2 570.7,742.8 573.3,744.3 575.9,745.7 578.6,747.2 581.3,748.5 583.9,749.8 586.7,751.1 589.4,752.3 592.1,753.5 594.9,754.7 597.7,755.7 600.5,756.7 603.4,757.7 606.2,758.6 609.1,759.4 612,760.1 614.9,760.8 617.9,761.5 620.8,762.1 623.7,762.6 626.7,763.2 629.6,763.7 632.6,764.2 635.6,764.7 638.5,765.1 641.5,765.6 644.5,766 647.4,766.3 650.4,766.6 653.4,766.9 656.4,767.2 659.4,767.4 662.4,767.5 665.4,767.6 668.4,767.7 671.4,767.7 674.4,767.8 677.4,767.7 680.4,767.7 683.4,767.7 686.4,767.6 689.4,767.6 692.4,767.5 695.4,767.4 698.4,767.3 701.4,767.2 704.4,767.1 707.4,766.9 710.4,766.8 713.4,766.7 716.4,766.5 719.4,766.4 722.4,766.2 725.4,766 728.3,765.9 731.3,765.7 734.3,765.6 737.3,765.5 740.3,765.3 743.3,765.2 746.3,765 749.3,764.9 752.3,764.7 755.3,764.6 758.3,764.4 761.3,764.3 764.3,764.1 767.3,764 770.3,763.8 773.3,763.7 776.3,763.5 779.3,763.4 782.3,763.2 785.3,763.1 788.3,762.9 791.3,762.8 794.3,762.6 797.3,762.5 800.3,762.3 803.3,762.2 806.3,762 809.3,761.9 812.3,761.7 815.3,761.6 818.3,761.4 821.2,761.3 824.2,761.1 827.2,761 830.2,760.8 833.2,760.7 836.2,760.5 839.2,760.4 842.2,760.3 845.2,760.1 848.2,759.9 851.2,759.8 854.2,759.6 857.2,759.5 860.2,759.3 863.2,759.1 866.2,759 869.2,758.8 872.2,758.7 875.2,758.5 878.2,758.4 881.2,758.2 884.2,758.1 887.2,758 890.2,757.9 893.2,757.8 896.2,757.6 899.2,757.5 902.2,757.4 905.2,757.4 908.2,757.3 911.2,757.2 914.2,757.1 917.2,757 920.2,757 923.2,756.9 926.2,756.8 929.2,756.7 932.2,756.7 935.2,756.6 938.2,756.5 941.2,756.5 944.2,756.4 947.2,756.4 950.2,756.3 953.2,756.2 956.2,756.2 959.2,756.1 962.2,756 965.2,756 968.2,755.9 971.2,755.9 974.2,755.8 977.2,755.7 980.2,755.7 983.2,755.6 986.2,755.6 989.2,755.5 992.2,755.4 995.2,755.4 998.2,755.3 1001.2,755.2 1004.2,755.2 1007.2,755.1 1010.2,755 1013.2,755 1016.2,754.9 1019.2,754.8 1022.2,754.7 1025.2,754.7 1028.2,754.6 1031.2,754.5 1034.2,754.5 1037.2,754.4 1040.2,754.3 1043.2,754.2 1046.2,754.2 1049.2,754.1 1052.2,754 1055.2,754 1058.1,753.9 1061.1,753.8 1064.1,753.7 1067.1,753.7 1070.1,753.6 1073.1,753.5 1076.1,753.5 1079.1,753.4 1082.1,753.3 1085.1,753.2 1088.1,753.2 1091.1,753.1 1094.1,753 1097.1,753 1100.1,752.9 1103.1,752.8 1106.1,752.8 1109.1,752.7 1112.1,752.6 1115.1,752.6 1118.1,752.5 1121.1,752.4 1124.1,752.4 1127.1,752.3 1130.1,752.3 1133.1,752.2 1136.1,752.1 1139.1,752.1 1142.1,752 1145.1,752 1148.1,751.9 1151.1,751.9 1154.1,751.8 1157.1,751.8 1160.1,751.7 1163.1,751.7 1166.1,751.6 1169.1,751.6 1172.1,751.5 1175.1,751.5 1178.1,751.5 1181.1,751.4 1184.1,751.4 1187.1,751.3 1190.1,751.3 1193.1,751.3 1196.1,751.2 1199.1,751.2 1202.1,751.2 1205.1,751.2 1208.1,751.1 1211.1,751.1 1214.1,751.1 1217.1,751 1220.1,751 1223.1,751 1226.1,751 1229.1,750.9 1232.1,750.9 1235.1,750.9 1238.1,750.9 1241.1,750.9 1244.1,750.8 1247.2,750.8 1250.2,750.8 1253.2,750.8 1256.2,750.8 1259.2,750.7 1262.2,750.7 1265.2,750.7 1268.2,750.7 1271.2,750.7 1274.2,750.7 1277.2,750.6 1280.2,750.6 1283.2,750.6 1286.2,750.6 1289.2,750.6 1292.2,750.5 1295.2,750.5 1298.2,750.5 1301.2,750.5 1304.2,750.5 1307.2,750.4 1310.2,750.4 1313.2,750.4 1316.2,750.4 1319.2,750.3 1322.2,750.3 1325.2,750.3 1328.2,750.3 1331.2,750.2 1334.2,750.2 1337.2,750.2 1340.2,750.1 1343.2,750.1 1346.2,750.1 1349.2,750.1 1352.2,750 1355.2,750 1358.2,750 1361.2,750 1364.2,750 1367.2,750 1370.2,750 1373.2,750 1376.2,749.9 1379.2,749.9 1382.2,749.9 1385.2,749.9 1388.2,750 1391.2,750 1394.2,750 1397.2,750 1400.2,750 1403.2,750 1406.2,750 1409.2,750.1 1412.2,750.1 1415.2,750.1 1418.2,750.2 1421.2,750.2 1424.2,750.2 1427.2,750.3 1430.2,750.3 1433.2,750.4 1436.2,750.4 1439.2,750.5 1442.2,750.5 1445.2,750.5 1448.2,750.6 1451.2,750.6 1454.2,750.7 1457.2,750.7 1460.2,750.8 1463.2,750.8 1466.2,750.9 1469.2,750.9 1472.2,751 1475.2,751 1478.2,751.1 1481.2,751.1 1484.2,751.2 1487.2,751.2 1490.2,751.3 1493.2,751.3 1496.2,751.4 1499.2,751.4 1502.2,751.5 1505.2,751.5 1508.2,751.6 1511.2,751.6 1514.2,751.6 1517.2,751.7 1520.2,751.7 1523.2,751.7 1526.2,751.8 1529.2,751.8 1532.2,751.8 1535.2,751.9 1538.2,751.9 1541.2,751.9 1544.2,751.9 1547.2,751.9 1550.2,752 1553.2,752 1556.2,752 1559.2,752 1562.2,752 1565.2,752 1568.2,752 1571.2,752 1574.2,752 1577.2,752 1580.2,752 1583.2,752 1586.2,752 1589.2,751.9 1592.2,751.9 1595.2,751.9 1598.2,751.9 1601.2,751.9 1604.2,751.9 1607.2,751.8 1610.2,751.8 1613.2,751.8 1616.2,751.8 1619.2,751.7 1622.2,751.7 1625.2,751.7 1628.2,751.7 1631.2,751.6 1634.2,751.6 1637.2,751.6 1640.2,751.6 1643.2,751.5 1646.2,751.5 1649.2,751.5 1652.2,751.4 1655.2,751.4 1658.2,751.4 1661.2,751.4 1664.2,751.3 1667.2,751.3 1670.2,751.3 1673.2,751.2 1676.2,751.2 1679.2,751.2 1682.2,751.1 1685.2,751.1 1688.2,751.1 1691.2,751 1694.2,751 1697.2,751 1700.2,750.9 1703.2,750.9 1706.2,750.8 1709.2,750.8 1712.2,750.8 1715.2,750.7 1718.2,750.7 1721.2,750.7 1724.2,750.6 1727.2,750.6 1730.2,750.6 1733.2,750.5 1736.2,750.5 1739.2,750.5 1742.2,750.4 1745.2,750.4 1746.2,750.4" fill="none" stroke="#0f0" stroke-width="6.5" stroke-linejoin="round" stroke-linecap="round"/>
<text x="204.2" y="1189.7" font-size="52" text-anchor="end">0</text>
<text x="204.2" y="973" font-size="52" text-anchor="end">5</text>
<text x="204.2" y="756.3" font-size="52" text-anchor="end">10</text>
<text x="204.2" y="539.6" font-size="52" text-anchor="end">15</text>
<text x="204.2" y="322.9" font-size="52" text-anchor="end">20</text>
<text x="204.2" y="106.2" font-size="52" text-anchor="end">25</text>
<text x="246" y="1258.8" font-size="52" text-anchor="middle">0</text>
<text x="561.6" y="1258.8" font-size="52" text-anchor="middle">20</text>
<text x="877.2" y="1258.8" font-size="52" text-anchor="middle">40</text>
<text x="1192.8" y="1258.8" font-size="52" text-anchor="middle">60</text>
<text x="1508.4" y="1258.8" font-size="52" text-anchor="middle">80</text>
<text x="1824" y="1258.8" font-size="52" text-anchor="middle">100</text>
<text x="0" y="0" font-size="69.4" text-anchor="middle" transform="translate(92.5,627.5) rotate(-90)">nominal stress (MPa)</text>
<text x="0" y="0" font-size="67" text-anchor="middle" transform="translate(1121.3,1330) scale(1.057,1)">extension (mm)</text>
<text x="0" y="0" font-size="59.5" transform="translate(1747.4,68.9) scale(1.035,1)">(a)</text>
<path d="M396,462 L404,490 L419.5,519.7 L434.5,548.7 L441.9,564.6 L451.8,579.4 L462,600 L472,620 L483,638" fill="none" stroke="#000" stroke-width="1.5"/>
<circle cx="302.6" cy="307.7" r="12.4" fill="#fff" stroke="#000" stroke-width="3.1"/>
<circle cx="426.9" cy="521.8" r="12.4" fill="#fff" stroke="#000" stroke-width="3.1"/>
<circle cx="541.4" cy="680.2" r="12.4" fill="#fff" stroke="#000" stroke-width="3.1"/>
<circle cx="662.5" cy="665.5" r="12.4" fill="#fff" stroke="#000" stroke-width="3.1"/>
<circle cx="1655.6" cy="605.5" r="12.4" fill="#fff" stroke="#000" stroke-width="3.1"/>
<rect x="645.8" y="161.5" width="1091.6" height="315.4" fill="#fff" stroke="#000" stroke-width="3.1"/>
<line x1="677.6" y1="221.5" x2="794.8" y2="221.5" stroke="#000" stroke-width="6" stroke-linecap="round"/>
<text x="824.5" y="239.9" font-size="52.8" xml:space="preserve" style="white-space:pre">HDPE (dry)</text>
<line x1="677.6" y1="286.5" x2="794.8" y2="286.5" stroke="#00f" stroke-width="6" stroke-linecap="round"/>
<text x="824.5" y="304.9" font-size="52.8" xml:space="preserve" style="white-space:pre">HDPE (swollen with chloroform)</text>
<line x1="677.6" y1="351.5" x2="794.8" y2="351.5" stroke="#f00" stroke-width="6" stroke-linecap="round"/>
<text x="824.5" y="369.9" font-size="52.8" xml:space="preserve" style="white-space:pre">HDPE/wax (dry)</text>
<line x1="677.6" y1="416.5" x2="794.8" y2="416.5" stroke="#0f0" stroke-width="6" stroke-linecap="round"/>
<text x="824.5" y="434.9" font-size="52.8" xml:space="preserve" style="white-space:pre">HDPE/wax  (swollen with chloroform)</text>
<line x1="570.9" y1="449" x2="433.4" y2="521.4" stroke="#000" stroke-width="1.8"/>
<polyline points="460.2,496.9 433.4,521.4 469.5,513.2" fill="none" stroke="#000" stroke-width="1.8"/>
<line x1="619.9" y1="551.9" x2="482.5" y2="623.9" stroke="#00f" stroke-width="1.8"/>
<polyline points="509.2,599.9 482.5,623.9 518.4,616.8" fill="none" stroke="#00f" stroke-width="1.8"/>
<g stroke="#000" stroke-width="3.6" fill="none" stroke-linecap="butt" stroke-linejoin="miter">
<rect x="254" y="1384.5" width="1578" height="1083.5"/>
<line x1="237" y1="2468" x2="254" y2="2468"/>
<line x1="237" y1="2313.2" x2="254" y2="2313.2"/>
<line x1="237" y1="2158.4" x2="254" y2="2158.4"/>
<line x1="237" y1="2003.6" x2="254" y2="2003.6"/>
<line x1="237" y1="1848.9" x2="254" y2="1848.9"/>
<line x1="237" y1="1694.1" x2="254" y2="1694.1"/>
<line x1="237" y1="1539.3" x2="254" y2="1539.3"/>
<line x1="237" y1="1384.5" x2="254" y2="1384.5"/>
<line x1="254" y1="2468" x2="254" y2="2485"/>
<line x1="582.8" y1="2468" x2="582.8" y2="2485"/>
<line x1="911.5" y1="2468" x2="911.5" y2="2485"/>
<line x1="1240.2" y1="2468" x2="1240.2" y2="2485"/>
<line x1="1569" y1="2468" x2="1569" y2="2485"/>
</g>
<text x="211.5" y="2486.2" font-size="52" text-anchor="end">0</text>
<text x="211.5" y="2331.4" font-size="52" text-anchor="end">20</text>
<text x="211.5" y="2176.6" font-size="52" text-anchor="end">40</text>
<text x="211.5" y="2021.8" font-size="52" text-anchor="end">60</text>
<text x="211.5" y="1867.1" font-size="52" text-anchor="end">80</text>
<text x="211.5" y="1712.3" font-size="52" text-anchor="end">100</text>
<text x="211.5" y="1557.5" font-size="52" text-anchor="end">120</text>
<text x="211.5" y="1402.7" font-size="52" text-anchor="end">140</text>
<text x="254" y="2556.2" font-size="52" text-anchor="middle">0.0</text>
<text x="582.8" y="2556.2" font-size="52" text-anchor="middle">0.5</text>
<text x="911.5" y="2556.2" font-size="52" text-anchor="middle">1.0</text>
<text x="1240.2" y="2556.2" font-size="52" text-anchor="middle">1.5</text>
<text x="1569" y="2556.2" font-size="52" text-anchor="middle">2.0</text>
<text x="0" y="0" font-size="69" text-anchor="middle" transform="translate(81.5,1918) rotate(-90)">true stress (MPa)</text>
<text x="0" y="0" font-size="59.5" transform="translate(1747.4,1364.1) scale(1.035,1)">(b)</text>
<text x="721.4" y="2646.3" font-size="70.5">true strain,</text>
<g class="serif">
<text class="serif" x="1073.4" y="2646.3" font-size="76" font-style="italic">e</text>
<text class="serif" x="1104.8" y="2668.4" font-size="49" font-style="italic">H</text>
<text class="serif" x="1142.1" y="2646.3" font-size="77">=</text>
<text class="serif" x="1185.2" y="2646.3" font-size="72.5" font-style="italic">ln</text>
<text class="serif" x="1243" y="2646.3" font-size="74">(</text>
<text class="serif" x="1264.6" y="2646.3" font-size="70" font-style="italic">l/l</text>
<text class="serif" x="1324" y="2668.4" font-size="48" font-style="italic">o</text>
<text class="serif" x="1349.7" y="2646.3" font-size="74">)</text>
</g>
<path d="M254,2467 L256,2425 L259,2395 L264,2372 L270,2352 L278,2336 L288,2323 L302,2314 L319.5,2308.8 L340,2301 L365,2293 L400,2286 L440,2281.5 L480,2277 L520,2272.5 L560,2266 L600,2259.5 L640,2253 L675,2247 L701,2240 L732.5,2228.6 L761.9,2225.5 L806.8,2219.3 L834.7,2213.2 L881.1,2205.4 L922.9,2197.7 L961.6,2182.2 L1005,2166.7 L1043.7,2160.5 L1076.2,2143.5 L1110.2,2123.4 L1147.4,2118.7 L1173.7,2095.5 L1195.4,2087.8 L1242.9,2068 L1266.4,2055.6 L1298.6,2038.2 L1334.5,2011 L1358,1996.1 L1372.9,1986.2 L1397.7,1976.3 L1417.5,1959 L1434.8,1944.1 L1456.6,1925 L1472,1907 L1484.4,1892.1 L1501.7,1879.7 L1521.5,1864.9 L1536.8,1846.8 L1556.4,1831.6 L1560.7,1812.1 L1562.9,1796.9 L1578,1779.6 L1593.2,1755.7 L1610.5,1738.4 L1621.4,1716.7 L1638.7,1708 L1640.9,1692.9 L1656,1677.7 L1660.4,1651.7 L1663.6,1626.8 L1667.3,1597.5" fill="none" stroke="#000" stroke-width="1.8"/>
<circle cx="254" cy="2467" r="12" fill="#000" stroke="#000" stroke-width="3"/><circle cx="255" cy="2445" r="12" fill="#000" stroke="#000" stroke-width="3"/><circle cx="256.2" cy="2423.1" r="12" fill="#000" stroke="#000" stroke-width="3"/><circle cx="258.4" cy="2401.2" r="12" fill="#000" stroke="#000" stroke-width="3"/><circle cx="262.4" cy="2379.6" r="12" fill="#000" stroke="#000" stroke-width="3"/><circle cx="264.9" cy="2368.9" r="12" fill="#000" stroke="#000" stroke-width="3"/><circle cx="268.1" cy="2358.3" r="12" fill="#000" stroke="#000" stroke-width="3"/><circle cx="272" cy="2348.1" r="12" fill="#000" stroke="#000" stroke-width="3"/><circle cx="276.9" cy="2338.2" r="12" fill="#000" stroke="#000" stroke-width="3"/><circle cx="283.2" cy="2329.3" r="12" fill="#000" stroke="#000" stroke-width="3"/><circle cx="290.6" cy="2321.3" r="12" fill="#000" stroke="#000" stroke-width="3"/><circle cx="299.9" cy="2315.4" r="12" fill="#000" stroke="#000" stroke-width="3"/><circle cx="310.1" cy="2311.6" r="12" fill="#000" stroke="#000" stroke-width="3"/><circle cx="320.6" cy="2308.4" r="12" fill="#000" stroke="#000" stroke-width="3"/><circle cx="330.9" cy="2304.5" r="12" fill="#000" stroke="#000" stroke-width="3"/><circle cx="341.2" cy="2300.6" r="12" fill="#000" stroke="#000" stroke-width="3"/><circle cx="351.7" cy="2297.3" r="12" fill="#000" stroke="#000" stroke-width="3"/><circle cx="362.2" cy="2293.9" r="12" fill="#000" stroke="#000" stroke-width="3"/><circle cx="372.9" cy="2291.4" r="12" fill="#000" stroke="#000" stroke-width="3"/><circle cx="383.7" cy="2289.3" r="12" fill="#000" stroke="#000" stroke-width="3"/><circle cx="394.4" cy="2287.1" r="12" fill="#000" stroke="#000" stroke-width="3"/><circle cx="405.3" cy="2285.4" r="12" fill="#000" stroke="#000" stroke-width="3"/><circle cx="416.2" cy="2284.2" r="12" fill="#000" stroke="#000" stroke-width="3"/><circle cx="427.2" cy="2282.9" r="12" fill="#000" stroke="#000" stroke-width="3"/><circle cx="438.1" cy="2281.7" r="12" fill="#000" stroke="#000" stroke-width="3"/><circle cx="449" cy="2280.5" r="12" fill="#000" stroke="#000" stroke-width="3"/><circle cx="460" cy="2279.3" r="12" fill="#000" stroke="#000" stroke-width="3"/><circle cx="470.9" cy="2278" r="12" fill="#000" stroke="#000" stroke-width="3"/><circle cx="481.8" cy="2276.8" r="12" fill="#000" stroke="#000" stroke-width="3"/><circle cx="492.7" cy="2275.6" r="12" fill="#000" stroke="#000" stroke-width="3"/><circle cx="503.7" cy="2274.3" r="12" fill="#000" stroke="#000" stroke-width="3"/><circle cx="514.6" cy="2273.1" r="12" fill="#000" stroke="#000" stroke-width="3"/><circle cx="525.5" cy="2271.6" r="12" fill="#000" stroke="#000" stroke-width="3"/><circle cx="536.4" cy="2269.8" r="12" fill="#000" stroke="#000" stroke-width="3"/><circle cx="547.2" cy="2268.1" r="12" fill="#000" stroke="#000" stroke-width="3"/><circle cx="558.1" cy="2266.3" r="12" fill="#000" stroke="#000" stroke-width="3"/><circle cx="568.9" cy="2264.5" r="12" fill="#000" stroke="#000" stroke-width="3"/><circle cx="579.8" cy="2262.8" r="12" fill="#000" stroke="#000" stroke-width="3"/><circle cx="590.7" cy="2261" r="12" fill="#000" stroke="#000" stroke-width="3"/><circle cx="601.5" cy="2259.3" r="12" fill="#000" stroke="#000" stroke-width="3"/><circle cx="612.4" cy="2257.5" r="12" fill="#000" stroke="#000" stroke-width="3"/><circle cx="623.2" cy="2255.7" r="12" fill="#000" stroke="#000" stroke-width="3"/><circle cx="634.1" cy="2254" r="12" fill="#000" stroke="#000" stroke-width="3"/><circle cx="644.9" cy="2252.2" r="12" fill="#000" stroke="#000" stroke-width="3"/><circle cx="655.8" cy="2250.3" r="12" fill="#000" stroke="#000" stroke-width="3"/><circle cx="666.6" cy="2248.4" r="12" fill="#000" stroke="#000" stroke-width="3"/><circle cx="677.4" cy="2246.4" r="12" fill="#000" stroke="#000" stroke-width="3"/><circle cx="688" cy="2243.5" r="12" fill="#000" stroke="#000" stroke-width="3"/><circle cx="698.7" cy="2240.6" r="12" fill="#000" stroke="#000" stroke-width="3"/><circle cx="709.1" cy="2237.1" r="12" fill="#000" stroke="#000" stroke-width="3"/><circle cx="719.4" cy="2233.3" r="12" fill="#000" stroke="#000" stroke-width="3"/><circle cx="732.5" cy="2228.6" r="12" fill="#000" stroke="#000" stroke-width="3"/><circle cx="761.9" cy="2225.5" r="12" fill="#000" stroke="#000" stroke-width="3"/><circle cx="806.8" cy="2219.3" r="12" fill="#000" stroke="#000" stroke-width="3"/><circle cx="834.7" cy="2213.2" r="12" fill="#000" stroke="#000" stroke-width="3"/><circle cx="881.1" cy="2205.4" r="12" fill="#000" stroke="#000" stroke-width="3"/><circle cx="922.9" cy="2197.7" r="12" fill="#000" stroke="#000" stroke-width="3"/><circle cx="961.6" cy="2182.2" r="12" fill="#000" stroke="#000" stroke-width="3"/><circle cx="1005" cy="2166.7" r="12" fill="#000" stroke="#000" stroke-width="3"/><circle cx="1043.7" cy="2160.5" r="12" fill="#000" stroke="#000" stroke-width="3"/><circle cx="1076.2" cy="2143.5" r="12" fill="#000" stroke="#000" stroke-width="3"/><circle cx="1110.2" cy="2123.4" r="12" fill="#000" stroke="#000" stroke-width="3"/><circle cx="1147.4" cy="2118.7" r="12" fill="#000" stroke="#000" stroke-width="3"/><circle cx="1173.7" cy="2095.5" r="12" fill="#000" stroke="#000" stroke-width="3"/><circle cx="1195.4" cy="2087.8" r="12" fill="#000" stroke="#000" stroke-width="3"/><circle cx="1242.9" cy="2068" r="12" fill="#000" stroke="#000" stroke-width="3"/><circle cx="1266.4" cy="2055.6" r="12" fill="#000" stroke="#000" stroke-width="3"/><circle cx="1298.6" cy="2038.2" r="12" fill="#000" stroke="#000" stroke-width="3"/><circle cx="1334.5" cy="2011" r="12" fill="#000" stroke="#000" stroke-width="3"/><circle cx="1347.2" cy="2003" r="12" fill="#000" stroke="#000" stroke-width="3"/><circle cx="1359.8" cy="1994.9" r="12" fill="#000" stroke="#000" stroke-width="3"/><circle cx="1372.3" cy="1986.6" r="12" fill="#000" stroke="#000" stroke-width="3"/><circle cx="1386.2" cy="1980.9" r="12" fill="#000" stroke="#000" stroke-width="3"/><circle cx="1399.6" cy="1974.6" r="12" fill="#000" stroke="#000" stroke-width="3"/><circle cx="1410.9" cy="1964.7" r="12" fill="#000" stroke="#000" stroke-width="3"/><circle cx="1422.3" cy="1954.9" r="12" fill="#000" stroke="#000" stroke-width="3"/><circle cx="1433.6" cy="1945.1" r="12" fill="#000" stroke="#000" stroke-width="3"/><circle cx="1444.9" cy="1935.2" r="12" fill="#000" stroke="#000" stroke-width="3"/><circle cx="1456.2" cy="1925.3" r="12" fill="#000" stroke="#000" stroke-width="3"/><circle cx="1466" cy="1914" r="12" fill="#000" stroke="#000" stroke-width="3"/><circle cx="1475.7" cy="1902.5" r="12" fill="#000" stroke="#000" stroke-width="3"/><circle cx="1485.5" cy="1891.3" r="12" fill="#000" stroke="#000" stroke-width="3"/><circle cx="1497.7" cy="1882.5" r="12" fill="#000" stroke="#000" stroke-width="3"/><circle cx="1509.8" cy="1873.6" r="12" fill="#000" stroke="#000" stroke-width="3"/><circle cx="1521.8" cy="1864.6" r="12" fill="#000" stroke="#000" stroke-width="3"/><circle cx="1531.4" cy="1853.1" r="12" fill="#000" stroke="#000" stroke-width="3"/><circle cx="1542.1" cy="1842.7" r="12" fill="#000" stroke="#000" stroke-width="3"/><circle cx="1554" cy="1833.5" r="12" fill="#000" stroke="#000" stroke-width="3"/><circle cx="1559.8" cy="1816.1" r="12" fill="#000" stroke="#000" stroke-width="3"/><circle cx="1562.8" cy="1797.3" r="12" fill="#000" stroke="#000" stroke-width="3"/><circle cx="1575.1" cy="1782.9" r="12" fill="#000" stroke="#000" stroke-width="3"/><circle cx="1585.9" cy="1767.2" r="12" fill="#000" stroke="#000" stroke-width="3"/><circle cx="1597" cy="1751.9" r="12" fill="#000" stroke="#000" stroke-width="3"/><circle cx="1610.4" cy="1738.5" r="12" fill="#000" stroke="#000" stroke-width="3"/><circle cx="1619" cy="1721.5" r="12" fill="#000" stroke="#000" stroke-width="3"/><circle cx="1633.5" cy="1710.6" r="12" fill="#000" stroke="#000" stroke-width="3"/><circle cx="1640.6" cy="1694.9" r="12" fill="#000" stroke="#000" stroke-width="3"/><circle cx="1652.9" cy="1680.8" r="12" fill="#000" stroke="#000" stroke-width="3"/><circle cx="1659.3" cy="1658.4" r="12" fill="#000" stroke="#000" stroke-width="3"/><circle cx="1662.6" cy="1634.6" r="12" fill="#000" stroke="#000" stroke-width="3"/><circle cx="1665.6" cy="1610.8" r="12" fill="#000" stroke="#000" stroke-width="3"/><circle cx="1667.3" cy="1597.5" r="12" fill="#000" stroke="#000" stroke-width="3"/>
<path d="M254,2463 L257,2444 L261,2426 L265.5,2410 L270.5,2396 L276,2384 L283,2374 L291,2365 L300,2357 L310,2349 L322,2341 L336,2334 L352,2329 L370,2324 L400,2318.5 L440,2313 L480,2307 L520,2301 L560,2295 L600,2289 L640,2283 L680,2276 L721.7,2268.9 L740.2,2267.3 L772.8,2261.1 L799,2255 L834.7,2247.2 L862.5,2242.6 L890.4,2236.4 L927.6,2227.1 L949.2,2224 L995.7,2210 L1022,2207 L1045.2,2200.8 L1077.7,2190 L1113.3,2177.6 L1141.2,2165.2 L1155.1,2162.1 L1192.3,2148.1 L1216.9,2134.8 L1239.2,2127.4 L1259,2117.5 L1278.8,2107.6 L1298.6,2097.7 L1316,2087.8 L1345.7,2068 L1363,2058 L1385.3,2045.7 L1407.6,2028.3 L1424.9,2013.5 L1444.7,1998.6 L1464.6,1981.3 L1484.4,1963.9 L1498.6,1954.3 L1521.5,1939.2 L1535.7,1922.8 L1558,1904.2 L1572.9,1891.2 L1587.7,1874.5 L1598.9,1861.5 L1610,1846.6 L1621.2,1833.6 L1634.2,1818.7 L1645.3,1803.9" fill="none" stroke="#000" stroke-width="1.8"/>
<circle cx="1408.9" cy="2037.4" r="12" fill="#000" stroke="#000" stroke-width="3"/><circle cx="1416.6" cy="2031" r="12" fill="#000" stroke="#000" stroke-width="3"/><circle cx="1424.2" cy="2024.5" r="12" fill="#000" stroke="#000" stroke-width="3"/><circle cx="1431.9" cy="2018.2" r="12" fill="#000" stroke="#000" stroke-width="3"/><circle cx="1439.9" cy="2012.2" r="12" fill="#000" stroke="#000" stroke-width="3"/><circle cx="1447.9" cy="2006.2" r="12" fill="#000" stroke="#000" stroke-width="3"/><circle cx="1455.5" cy="1999.7" r="12" fill="#000" stroke="#000" stroke-width="3"/><circle cx="1463" cy="1993.1" r="12" fill="#000" stroke="#000" stroke-width="3"/><circle cx="1470.6" cy="1986.6" r="12" fill="#000" stroke="#000" stroke-width="3"/><circle cx="1478.1" cy="1980" r="12" fill="#000" stroke="#000" stroke-width="3"/><circle cx="1485.6" cy="1973.4" r="12" fill="#000" stroke="#000" stroke-width="3"/><circle cx="1493.6" cy="1967.4" r="12" fill="#000" stroke="#000" stroke-width="3"/><circle cx="1501.9" cy="1961.8" r="12" fill="#000" stroke="#000" stroke-width="3"/><circle cx="1510.2" cy="1956.3" r="12" fill="#000" stroke="#000" stroke-width="3"/><circle cx="1518.6" cy="1950.8" r="12" fill="#000" stroke="#000" stroke-width="3"/><circle cx="1526.6" cy="1944.9" r="12" fill="#000" stroke="#000" stroke-width="3"/><circle cx="1533.2" cy="1937.3" r="12" fill="#000" stroke="#000" stroke-width="3"/><circle cx="1539.7" cy="1929.8" r="12" fill="#000" stroke="#000" stroke-width="3"/><circle cx="1547.4" cy="1923.4" r="12" fill="#000" stroke="#000" stroke-width="3"/><circle cx="1555.1" cy="1917" r="12" fill="#000" stroke="#000" stroke-width="3"/><circle cx="1562.7" cy="1910.6" r="12" fill="#000" stroke="#000" stroke-width="3"/><circle cx="1570.3" cy="1904" r="12" fill="#000" stroke="#000" stroke-width="3"/><circle cx="1577.7" cy="1897.3" r="12" fill="#000" stroke="#000" stroke-width="3"/><circle cx="1584.3" cy="1889.8" r="12" fill="#000" stroke="#000" stroke-width="3"/><circle cx="1591" cy="1882.3" r="12" fill="#000" stroke="#000" stroke-width="3"/><circle cx="1597.5" cy="1874.8" r="12" fill="#000" stroke="#000" stroke-width="3"/><circle cx="1603.9" cy="1867.1" r="12" fill="#000" stroke="#000" stroke-width="3"/><circle cx="1609.9" cy="1859.1" r="12" fill="#000" stroke="#000" stroke-width="3"/><circle cx="1616.1" cy="1851.2" r="12" fill="#000" stroke="#000" stroke-width="3"/><circle cx="1622.6" cy="1843.6" r="12" fill="#000" stroke="#000" stroke-width="3"/><circle cx="1629.1" cy="1836.1" r="12" fill="#000" stroke="#000" stroke-width="3"/><circle cx="1635.7" cy="1828.5" r="12" fill="#000" stroke="#000" stroke-width="3"/><circle cx="1641.9" cy="1820.7" r="12" fill="#000" stroke="#000" stroke-width="3"/><circle cx="1649.3" cy="1810.9" r="12" fill="#000" stroke="#000" stroke-width="3"/>
<circle cx="254" cy="2463" r="12" fill="#00f" stroke="#000" stroke-width="3"/><circle cx="257.2" cy="2443.3" r="12" fill="#00f" stroke="#000" stroke-width="3"/><circle cx="261.6" cy="2423.8" r="12" fill="#00f" stroke="#000" stroke-width="3"/><circle cx="267.4" cy="2404.6" r="12" fill="#00f" stroke="#000" stroke-width="3"/><circle cx="271.3" cy="2394.3" r="12" fill="#00f" stroke="#000" stroke-width="3"/><circle cx="275.8" cy="2384.3" r="12" fill="#00f" stroke="#000" stroke-width="3"/><circle cx="282.1" cy="2375.3" r="12" fill="#00f" stroke="#000" stroke-width="3"/><circle cx="289.3" cy="2366.9" r="12" fill="#00f" stroke="#000" stroke-width="3"/><circle cx="297.3" cy="2359.4" r="12" fill="#00f" stroke="#000" stroke-width="3"/><circle cx="305.7" cy="2352.4" r="12" fill="#00f" stroke="#000" stroke-width="3"/><circle cx="314.6" cy="2345.9" r="12" fill="#00f" stroke="#000" stroke-width="3"/><circle cx="323.9" cy="2340" r="12" fill="#00f" stroke="#000" stroke-width="3"/><circle cx="333.7" cy="2335.1" r="12" fill="#00f" stroke="#000" stroke-width="3"/><circle cx="344.1" cy="2331.5" r="12" fill="#00f" stroke="#000" stroke-width="3"/><circle cx="354.6" cy="2328.3" r="12" fill="#00f" stroke="#000" stroke-width="3"/><circle cx="365.2" cy="2325.3" r="12" fill="#00f" stroke="#000" stroke-width="3"/><circle cx="375.9" cy="2322.9" r="12" fill="#00f" stroke="#000" stroke-width="3"/><circle cx="386.7" cy="2320.9" r="12" fill="#00f" stroke="#000" stroke-width="3"/><circle cx="397.6" cy="2318.9" r="12" fill="#00f" stroke="#000" stroke-width="3"/><circle cx="408.4" cy="2317.3" r="12" fill="#00f" stroke="#000" stroke-width="3"/><circle cx="419.3" cy="2315.8" r="12" fill="#00f" stroke="#000" stroke-width="3"/><circle cx="430.2" cy="2314.3" r="12" fill="#00f" stroke="#000" stroke-width="3"/><circle cx="441.1" cy="2312.8" r="12" fill="#00f" stroke="#000" stroke-width="3"/><circle cx="452" cy="2311.2" r="12" fill="#00f" stroke="#000" stroke-width="3"/><circle cx="462.9" cy="2309.6" r="12" fill="#00f" stroke="#000" stroke-width="3"/><circle cx="473.8" cy="2307.9" r="12" fill="#00f" stroke="#000" stroke-width="3"/><circle cx="484.7" cy="2306.3" r="12" fill="#00f" stroke="#000" stroke-width="3"/><circle cx="495.5" cy="2304.7" r="12" fill="#00f" stroke="#000" stroke-width="3"/><circle cx="506.4" cy="2303" r="12" fill="#00f" stroke="#000" stroke-width="3"/><circle cx="517.3" cy="2301.4" r="12" fill="#00f" stroke="#000" stroke-width="3"/><circle cx="528.2" cy="2299.8" r="12" fill="#00f" stroke="#000" stroke-width="3"/><circle cx="539" cy="2298.1" r="12" fill="#00f" stroke="#000" stroke-width="3"/><circle cx="549.9" cy="2296.5" r="12" fill="#00f" stroke="#000" stroke-width="3"/><circle cx="560" cy="2295" r="12" fill="#00f" stroke="#000" stroke-width="3"/><circle cx="604" cy="2288" r="12" fill="#00f" stroke="#000" stroke-width="3"/><circle cx="627" cy="2285" r="12" fill="#00f" stroke="#000" stroke-width="3"/><circle cx="664" cy="2279" r="12" fill="#00f" stroke="#000" stroke-width="3"/><circle cx="700" cy="2273" r="12" fill="#00f" stroke="#000" stroke-width="3"/><circle cx="721.7" cy="2268.9" r="12" fill="#00f" stroke="#000" stroke-width="3"/><circle cx="740.2" cy="2267.3" r="12" fill="#00f" stroke="#000" stroke-width="3"/><circle cx="772.8" cy="2261.1" r="12" fill="#00f" stroke="#000" stroke-width="3"/><circle cx="799" cy="2255" r="12" fill="#00f" stroke="#000" stroke-width="3"/><circle cx="834.7" cy="2247.2" r="12" fill="#00f" stroke="#000" stroke-width="3"/><circle cx="862.5" cy="2242.6" r="12" fill="#00f" stroke="#000" stroke-width="3"/><circle cx="890.4" cy="2236.4" r="12" fill="#00f" stroke="#000" stroke-width="3"/><circle cx="927.6" cy="2227.1" r="12" fill="#00f" stroke="#000" stroke-width="3"/><circle cx="949.2" cy="2224" r="12" fill="#00f" stroke="#000" stroke-width="3"/><circle cx="995.7" cy="2210" r="12" fill="#00f" stroke="#000" stroke-width="3"/><circle cx="1022" cy="2207" r="12" fill="#00f" stroke="#000" stroke-width="3"/><circle cx="1045.2" cy="2200.8" r="12" fill="#00f" stroke="#000" stroke-width="3"/><circle cx="1077.7" cy="2190" r="12" fill="#00f" stroke="#000" stroke-width="3"/><circle cx="1113.3" cy="2177.6" r="12" fill="#00f" stroke="#000" stroke-width="3"/><circle cx="1141.2" cy="2165.2" r="12" fill="#00f" stroke="#000" stroke-width="3"/><circle cx="1155.1" cy="2162.1" r="12" fill="#00f" stroke="#000" stroke-width="3"/><circle cx="1192.3" cy="2148.1" r="12" fill="#00f" stroke="#000" stroke-width="3"/><circle cx="1216.9" cy="2134.8" r="12" fill="#00f" stroke="#000" stroke-width="3"/><circle cx="1239.2" cy="2127.4" r="12" fill="#00f" stroke="#000" stroke-width="3"/><circle cx="1259" cy="2117.5" r="12" fill="#00f" stroke="#000" stroke-width="3"/><circle cx="1278.8" cy="2107.6" r="12" fill="#00f" stroke="#000" stroke-width="3"/><circle cx="1298.6" cy="2097.7" r="12" fill="#00f" stroke="#000" stroke-width="3"/><circle cx="1317.6" cy="2086.7" r="12" fill="#00f" stroke="#000" stroke-width="3"/><circle cx="1336" cy="2074.5" r="12" fill="#00f" stroke="#000" stroke-width="3"/><circle cx="1354.6" cy="2062.9" r="12" fill="#00f" stroke="#000" stroke-width="3"/><circle cx="1363.3" cy="2057.9" r="12" fill="#00f" stroke="#000" stroke-width="3"/><circle cx="1372" cy="2053" r="12" fill="#00f" stroke="#000" stroke-width="3"/><circle cx="1380.8" cy="2048.2" r="12" fill="#00f" stroke="#000" stroke-width="3"/><circle cx="1389.1" cy="2042.7" r="12" fill="#00f" stroke="#000" stroke-width="3"/><circle cx="1397" cy="2036.6" r="12" fill="#00f" stroke="#000" stroke-width="3"/><circle cx="1404.9" cy="2030.4" r="12" fill="#00f" stroke="#000" stroke-width="3"/><circle cx="1412.6" cy="2024" r="12" fill="#00f" stroke="#000" stroke-width="3"/><circle cx="1420.2" cy="2017.5" r="12" fill="#00f" stroke="#000" stroke-width="3"/><circle cx="1427.9" cy="2011.2" r="12" fill="#00f" stroke="#000" stroke-width="3"/><circle cx="1435.9" cy="2005.2" r="12" fill="#00f" stroke="#000" stroke-width="3"/><circle cx="1443.9" cy="1999.2" r="12" fill="#00f" stroke="#000" stroke-width="3"/><circle cx="1451.5" cy="1992.7" r="12" fill="#00f" stroke="#000" stroke-width="3"/><circle cx="1459" cy="1986.1" r="12" fill="#00f" stroke="#000" stroke-width="3"/><circle cx="1466.6" cy="1979.6" r="12" fill="#00f" stroke="#000" stroke-width="3"/><circle cx="1474.1" cy="1973" r="12" fill="#00f" stroke="#000" stroke-width="3"/><circle cx="1481.6" cy="1966.4" r="12" fill="#00f" stroke="#000" stroke-width="3"/><circle cx="1489.6" cy="1960.4" r="12" fill="#00f" stroke="#000" stroke-width="3"/><circle cx="1497.9" cy="1954.8" r="12" fill="#00f" stroke="#000" stroke-width="3"/><circle cx="1506.2" cy="1949.3" r="12" fill="#00f" stroke="#000" stroke-width="3"/><circle cx="1514.6" cy="1943.8" r="12" fill="#00f" stroke="#000" stroke-width="3"/><circle cx="1522.6" cy="1937.9" r="12" fill="#00f" stroke="#000" stroke-width="3"/><circle cx="1529.2" cy="1930.3" r="12" fill="#00f" stroke="#000" stroke-width="3"/><circle cx="1535.7" cy="1922.8" r="12" fill="#00f" stroke="#000" stroke-width="3"/><circle cx="1543.4" cy="1916.4" r="12" fill="#00f" stroke="#000" stroke-width="3"/><circle cx="1551.1" cy="1910" r="12" fill="#00f" stroke="#000" stroke-width="3"/><circle cx="1558.7" cy="1903.6" r="12" fill="#00f" stroke="#000" stroke-width="3"/><circle cx="1566.3" cy="1897" r="12" fill="#00f" stroke="#000" stroke-width="3"/><circle cx="1573.7" cy="1890.3" r="12" fill="#00f" stroke="#000" stroke-width="3"/><circle cx="1580.3" cy="1882.8" r="12" fill="#00f" stroke="#000" stroke-width="3"/><circle cx="1587" cy="1875.3" r="12" fill="#00f" stroke="#000" stroke-width="3"/><circle cx="1593.5" cy="1867.8" r="12" fill="#00f" stroke="#000" stroke-width="3"/><circle cx="1599.9" cy="1860.1" r="12" fill="#00f" stroke="#000" stroke-width="3"/><circle cx="1605.9" cy="1852.1" r="12" fill="#00f" stroke="#000" stroke-width="3"/><circle cx="1612.1" cy="1844.2" r="12" fill="#00f" stroke="#000" stroke-width="3"/><circle cx="1618.6" cy="1836.6" r="12" fill="#00f" stroke="#000" stroke-width="3"/><circle cx="1625.1" cy="1829.1" r="12" fill="#00f" stroke="#000" stroke-width="3"/><circle cx="1631.7" cy="1821.5" r="12" fill="#00f" stroke="#000" stroke-width="3"/><circle cx="1637.9" cy="1813.7" r="12" fill="#00f" stroke="#000" stroke-width="3"/><circle cx="1645.3" cy="1803.9" r="12" fill="#00f" stroke="#000" stroke-width="3"/>
<path d="M254,2467 L252,2422 L255,2393.5 L262.3,2373.4 L267.5,2357 L272.7,2342.2 L278.6,2331 L284.6,2322.1 L290.5,2316.2 L296.5,2310.2 L302.4,2304.3 L309.8,2299.8 L318.8,2295.4 L329.2,2292.4 L344,2289.4 L358.9,2287.2 L373.7,2285 L388.6,2282.8 L403.5,2281.3 L418.3,2279.8 L433.2,2278.3 L448.1,2276.8 L462.9,2275.3 L477.8,2273.1 L518.6,2269.3 L549.6,2266.3 L580.6,2261.6 L611.5,2257 L642.5,2252.3 L673.4,2247.7 L698,2242 L721.7,2237.9 L752.6,2231.7 L779.9,2220.9 L813.9,2215.3 L860.4,2205.7 L899.7,2197.7 L944.6,2183.7 L989.5,2174.5 L1026.6,2163 L1066.9,2152.8 L1099.4,2142 L1135.9,2127.1 L1168.1,2118.1 L1202,2110 L1225.5,2097.7 L1247.8,2082.8 L1267.6,2075.4 L1294.9,2063 L1314.7,2049.4 L1342,2033.3 L1368,2023.4 L1387.8,2014.7 L1402.6,2003.6 L1412.5,1993.7 L1424.9,1978.8 L1434.8,1968.9 L1447.2,1954 L1457.1,1944.1 L1469.5,1931.7 L1481.9,1924.3 L1496.7,1914.4 L1509.1,1907 L1521.5,1899.5 L1535.7,1891.2 L1550.6,1878.2 L1565.5,1868.9 L1576.6,1857.7 L1587.7,1844.7 L1598.9,1831.7 L1610,1820.6 L1621.2,1805.7 L1621.2,1790 L1637.9,1789 L1658.3,1790.9 L1669.5,1776 L1691.8,1761.1 L1703.7,1744.9 L1714.6,1727.6 L1720,1713.5 L1738.4,1698.3 L1743.8,1682 L1751.4,1669 L1756.8,1652.8 L1763.3,1635.5 L1776.3,1611.6 L1785.6,1582.4 L1786.5,1557.4" fill="none" stroke="#000" stroke-width="1.8"/>
<circle cx="1651.1" cy="1789.2" r="12" fill="#000" stroke="#000" stroke-width="3"/><circle cx="1657.7" cy="1780.4" r="12" fill="#000" stroke="#000" stroke-width="3"/><circle cx="1666.2" cy="1773.5" r="12" fill="#000" stroke="#000" stroke-width="3"/><circle cx="1675.3" cy="1767.4" r="12" fill="#000" stroke="#000" stroke-width="3"/><circle cx="1683.7" cy="1760.5" r="12" fill="#000" stroke="#000" stroke-width="3"/><circle cx="1690.2" cy="1751.6" r="12" fill="#000" stroke="#000" stroke-width="3"/><circle cx="1696.4" cy="1742.6" r="12" fill="#000" stroke="#000" stroke-width="3"/><circle cx="1702.3" cy="1733.3" r="12" fill="#000" stroke="#000" stroke-width="3"/><circle cx="1707" cy="1723.4" r="12" fill="#000" stroke="#000" stroke-width="3"/><circle cx="1712" cy="1713.9" r="12" fill="#000" stroke="#000" stroke-width="3"/><circle cx="1720.5" cy="1706.8" r="12" fill="#000" stroke="#000" stroke-width="3"/><circle cx="1728.6" cy="1699.6" r="12" fill="#000" stroke="#000" stroke-width="3"/><circle cx="1736.1" cy="1680.1" r="12" fill="#000" stroke="#000" stroke-width="3"/><circle cx="1744.7" cy="1661" r="12" fill="#000" stroke="#000" stroke-width="3"/><circle cx="1751.9" cy="1641.3" r="12" fill="#000" stroke="#000" stroke-width="3"/><circle cx="1761.4" cy="1622.6" r="12" fill="#000" stroke="#000" stroke-width="3"/><circle cx="1769.6" cy="1603.4" r="12" fill="#000" stroke="#000" stroke-width="3"/><circle cx="1775.6" cy="1583.3" r="12" fill="#000" stroke="#000" stroke-width="3"/><circle cx="1776.5" cy="1559.4" r="12" fill="#000" stroke="#000" stroke-width="3"/>
<circle cx="254" cy="2467" r="12" fill="#f00" stroke="#000" stroke-width="3"/><circle cx="253" cy="2445" r="12" fill="#f00" stroke="#000" stroke-width="3"/><circle cx="252" cy="2423" r="12" fill="#f00" stroke="#000" stroke-width="3"/><circle cx="254.2" cy="2401.2" r="12" fill="#f00" stroke="#000" stroke-width="3"/><circle cx="259.9" cy="2380.1" r="12" fill="#f00" stroke="#000" stroke-width="3"/><circle cx="264.1" cy="2367.8" r="12" fill="#f00" stroke="#000" stroke-width="3"/><circle cx="268.1" cy="2355.4" r="12" fill="#f00" stroke="#000" stroke-width="3"/><circle cx="272.4" cy="2343.1" r="12" fill="#f00" stroke="#000" stroke-width="3"/><circle cx="278.3" cy="2331.6" r="12" fill="#f00" stroke="#000" stroke-width="3"/><circle cx="285.8" cy="2320.9" r="12" fill="#f00" stroke="#000" stroke-width="3"/><circle cx="293.5" cy="2313.2" r="12" fill="#f00" stroke="#000" stroke-width="3"/><circle cx="301.3" cy="2305.4" r="12" fill="#f00" stroke="#000" stroke-width="3"/><circle cx="310.5" cy="2299.4" r="12" fill="#f00" stroke="#000" stroke-width="3"/><circle cx="320.5" cy="2294.9" r="12" fill="#f00" stroke="#000" stroke-width="3"/><circle cx="331.1" cy="2292" r="12" fill="#f00" stroke="#000" stroke-width="3"/><circle cx="345.8" cy="2289.1" r="12" fill="#f00" stroke="#000" stroke-width="3"/><circle cx="360.7" cy="2286.9" r="12" fill="#f00" stroke="#000" stroke-width="3"/><circle cx="375.5" cy="2284.7" r="12" fill="#f00" stroke="#000" stroke-width="3"/><circle cx="390.4" cy="2282.6" r="12" fill="#f00" stroke="#000" stroke-width="3"/><circle cx="405.3" cy="2281.1" r="12" fill="#f00" stroke="#000" stroke-width="3"/><circle cx="420.2" cy="2279.6" r="12" fill="#f00" stroke="#000" stroke-width="3"/><circle cx="435.1" cy="2278.1" r="12" fill="#f00" stroke="#000" stroke-width="3"/><circle cx="450.1" cy="2276.6" r="12" fill="#f00" stroke="#000" stroke-width="3"/><circle cx="465" cy="2275" r="12" fill="#f00" stroke="#000" stroke-width="3"/><circle cx="479.8" cy="2272.9" r="12" fill="#f00" stroke="#000" stroke-width="3"/><circle cx="494.8" cy="2271.5" r="12" fill="#f00" stroke="#000" stroke-width="3"/><circle cx="509.7" cy="2270.1" r="12" fill="#f00" stroke="#000" stroke-width="3"/><circle cx="524.6" cy="2268.7" r="12" fill="#f00" stroke="#000" stroke-width="3"/><circle cx="539.6" cy="2267.3" r="12" fill="#f00" stroke="#000" stroke-width="3"/><circle cx="554.5" cy="2265.6" r="12" fill="#f00" stroke="#000" stroke-width="3"/><circle cx="569.3" cy="2263.3" r="12" fill="#f00" stroke="#000" stroke-width="3"/><circle cx="584.1" cy="2261.1" r="12" fill="#f00" stroke="#000" stroke-width="3"/><circle cx="599" cy="2258.9" r="12" fill="#f00" stroke="#000" stroke-width="3"/><circle cx="613.8" cy="2256.7" r="12" fill="#f00" stroke="#000" stroke-width="3"/><circle cx="628.6" cy="2254.4" r="12" fill="#f00" stroke="#000" stroke-width="3"/><circle cx="643.5" cy="2252.2" r="12" fill="#f00" stroke="#000" stroke-width="3"/><circle cx="658.3" cy="2249.9" r="12" fill="#f00" stroke="#000" stroke-width="3"/><circle cx="673.1" cy="2247.7" r="12" fill="#f00" stroke="#000" stroke-width="3"/><circle cx="687.7" cy="2244.4" r="12" fill="#f00" stroke="#000" stroke-width="3"/><circle cx="702.4" cy="2241.2" r="12" fill="#f00" stroke="#000" stroke-width="3"/><circle cx="721.7" cy="2237.9" r="12" fill="#f00" stroke="#000" stroke-width="3"/><circle cx="752.6" cy="2231.7" r="12" fill="#f00" stroke="#000" stroke-width="3"/><circle cx="779.9" cy="2220.9" r="12" fill="#f00" stroke="#000" stroke-width="3"/><circle cx="813.9" cy="2215.3" r="12" fill="#f00" stroke="#000" stroke-width="3"/><circle cx="860.4" cy="2205.7" r="12" fill="#f00" stroke="#000" stroke-width="3"/><circle cx="899.7" cy="2197.7" r="12" fill="#f00" stroke="#000" stroke-width="3"/><circle cx="944.6" cy="2183.7" r="12" fill="#f00" stroke="#000" stroke-width="3"/><circle cx="989.5" cy="2174.5" r="12" fill="#f00" stroke="#000" stroke-width="3"/><circle cx="1026.6" cy="2163" r="12" fill="#f00" stroke="#000" stroke-width="3"/><circle cx="1066.9" cy="2152.8" r="12" fill="#f00" stroke="#000" stroke-width="3"/><circle cx="1099.4" cy="2142" r="12" fill="#f00" stroke="#000" stroke-width="3"/><circle cx="1135.9" cy="2127.1" r="12" fill="#f00" stroke="#000" stroke-width="3"/><circle cx="1168.1" cy="2118.1" r="12" fill="#f00" stroke="#000" stroke-width="3"/><circle cx="1202" cy="2110" r="12" fill="#f00" stroke="#000" stroke-width="3"/><circle cx="1225.5" cy="2097.7" r="12" fill="#f00" stroke="#000" stroke-width="3"/><circle cx="1247.8" cy="2082.8" r="12" fill="#f00" stroke="#000" stroke-width="3"/><circle cx="1267.6" cy="2075.4" r="12" fill="#f00" stroke="#000" stroke-width="3"/><circle cx="1294.9" cy="2063" r="12" fill="#f00" stroke="#000" stroke-width="3"/><circle cx="1314.7" cy="2049.4" r="12" fill="#f00" stroke="#000" stroke-width="3"/><circle cx="1342" cy="2033.3" r="12" fill="#f00" stroke="#000" stroke-width="3"/><circle cx="1360.7" cy="2026.2" r="12" fill="#f00" stroke="#000" stroke-width="3"/><circle cx="1379.2" cy="2018.5" r="12" fill="#f00" stroke="#000" stroke-width="3"/><circle cx="1396.2" cy="2008.4" r="12" fill="#f00" stroke="#000" stroke-width="3"/><circle cx="1404.1" cy="2002.1" r="12" fill="#f00" stroke="#000" stroke-width="3"/><circle cx="1411.1" cy="1995.1" r="12" fill="#f00" stroke="#000" stroke-width="3"/><circle cx="1417.7" cy="1987.5" r="12" fill="#f00" stroke="#000" stroke-width="3"/><circle cx="1424" cy="1979.8" r="12" fill="#f00" stroke="#000" stroke-width="3"/><circle cx="1431" cy="1972.7" r="12" fill="#f00" stroke="#000" stroke-width="3"/><circle cx="1437.8" cy="1965.3" r="12" fill="#f00" stroke="#000" stroke-width="3"/><circle cx="1444.2" cy="1957.6" r="12" fill="#f00" stroke="#000" stroke-width="3"/><circle cx="1450.9" cy="1950.3" r="12" fill="#f00" stroke="#000" stroke-width="3"/><circle cx="1458" cy="1943.2" r="12" fill="#f00" stroke="#000" stroke-width="3"/><circle cx="1465.1" cy="1936.1" r="12" fill="#f00" stroke="#000" stroke-width="3"/><circle cx="1472.7" cy="1929.8" r="12" fill="#f00" stroke="#000" stroke-width="3"/><circle cx="1481.3" cy="1924.7" r="12" fill="#f00" stroke="#000" stroke-width="3"/><circle cx="1489.6" cy="1919.1" r="12" fill="#f00" stroke="#000" stroke-width="3"/><circle cx="1498" cy="1913.6" r="12" fill="#f00" stroke="#000" stroke-width="3"/><circle cx="1506.6" cy="1908.5" r="12" fill="#f00" stroke="#000" stroke-width="3"/><circle cx="1515.1" cy="1903.3" r="12" fill="#f00" stroke="#000" stroke-width="3"/><circle cx="1523.7" cy="1898.2" r="12" fill="#f00" stroke="#000" stroke-width="3"/><circle cx="1532.4" cy="1893.2" r="12" fill="#f00" stroke="#000" stroke-width="3"/><circle cx="1540.3" cy="1887.2" r="12" fill="#f00" stroke="#000" stroke-width="3"/><circle cx="1547.9" cy="1880.6" r="12" fill="#f00" stroke="#000" stroke-width="3"/><circle cx="1556" cy="1874.8" r="12" fill="#f00" stroke="#000" stroke-width="3"/><circle cx="1564.5" cy="1869.5" r="12" fill="#f00" stroke="#000" stroke-width="3"/><circle cx="1572.4" cy="1861.9" r="12" fill="#f00" stroke="#000" stroke-width="3"/><circle cx="1579.9" cy="1853.9" r="12" fill="#f00" stroke="#000" stroke-width="3"/><circle cx="1587" cy="1845.5" r="12" fill="#f00" stroke="#000" stroke-width="3"/><circle cx="1594.2" cy="1837.2" r="12" fill="#f00" stroke="#000" stroke-width="3"/><circle cx="1601.6" cy="1829" r="12" fill="#f00" stroke="#000" stroke-width="3"/><circle cx="1609.3" cy="1821.3" r="12" fill="#f00" stroke="#000" stroke-width="3"/><circle cx="1616.1" cy="1812.5" r="12" fill="#f00" stroke="#000" stroke-width="3"/><circle cx="1621.2" cy="1803.3" r="12" fill="#f00" stroke="#000" stroke-width="3"/><circle cx="1621.2" cy="1792.3" r="12" fill="#f00" stroke="#000" stroke-width="3"/><circle cx="1630.1" cy="1789.5" r="12" fill="#f00" stroke="#000" stroke-width="3"/><circle cx="1641" cy="1789.3" r="12" fill="#f00" stroke="#000" stroke-width="3"/><circle cx="1652" cy="1790.3" r="12" fill="#f00" stroke="#000" stroke-width="3"/><circle cx="1661.1" cy="1787.2" r="12" fill="#f00" stroke="#000" stroke-width="3"/><circle cx="1667.7" cy="1778.4" r="12" fill="#f00" stroke="#000" stroke-width="3"/><circle cx="1676.2" cy="1771.5" r="12" fill="#f00" stroke="#000" stroke-width="3"/><circle cx="1685.3" cy="1765.4" r="12" fill="#f00" stroke="#000" stroke-width="3"/><circle cx="1693.7" cy="1758.5" r="12" fill="#f00" stroke="#000" stroke-width="3"/><circle cx="1700.2" cy="1749.6" r="12" fill="#f00" stroke="#000" stroke-width="3"/><circle cx="1706.4" cy="1740.6" r="12" fill="#f00" stroke="#000" stroke-width="3"/><circle cx="1712.3" cy="1731.3" r="12" fill="#f00" stroke="#000" stroke-width="3"/><circle cx="1717" cy="1721.4" r="12" fill="#f00" stroke="#000" stroke-width="3"/><circle cx="1722" cy="1711.9" r="12" fill="#f00" stroke="#000" stroke-width="3"/><circle cx="1730.5" cy="1704.8" r="12" fill="#f00" stroke="#000" stroke-width="3"/><circle cx="1738.6" cy="1697.6" r="12" fill="#f00" stroke="#000" stroke-width="3"/><circle cx="1746.1" cy="1678.1" r="12" fill="#f00" stroke="#000" stroke-width="3"/><circle cx="1754.7" cy="1659" r="12" fill="#f00" stroke="#000" stroke-width="3"/><circle cx="1761.9" cy="1639.3" r="12" fill="#f00" stroke="#000" stroke-width="3"/><circle cx="1771.4" cy="1620.6" r="12" fill="#f00" stroke="#000" stroke-width="3"/><circle cx="1779.6" cy="1601.4" r="12" fill="#f00" stroke="#000" stroke-width="3"/><circle cx="1785.6" cy="1581.3" r="12" fill="#f00" stroke="#000" stroke-width="3"/><circle cx="1786.5" cy="1557.4" r="12" fill="#f00" stroke="#000" stroke-width="3"/>
<path d="M254,2466 L257.8,2450 L264.5,2435.1 L269.7,2421.7 L274.2,2408.3 L278.6,2396.4 L283.1,2386 L289,2377.1 L296.5,2368.2 L303.9,2359.3 L311.3,2351.9 L318.8,2345.9 L329.2,2338.5 L341.1,2334 L351.5,2331 L366.3,2326.6 L381.2,2323.6 L396,2320.7 L410.9,2319.2 L425.8,2316.9 L440.6,2314.7 L455.5,2313.2 L470.3,2311.7 L487.7,2308 L518.6,2305 L549.6,2300.3 L580.6,2297.2 L599,2294 L636.3,2289.5 L658,2284.8 L685.8,2280.2 L710.8,2278.2 L743.3,2273.5 L781.1,2268.9 L803.7,2264.2 L830,2259.6 L871.2,2253.4 L895,2248.8 L927.6,2239.5 L946.1,2231.7 L984.8,2225.5 L1009,2215.6 L1043.7,2214.7 L1070,2208.5 L1099.4,2200.8 L1126.6,2193 L1145.8,2185.3 L1165.3,2176 L1192.3,2168.3 L1210,2157 L1229.3,2146 L1250,2141 L1268.9,2137.3 L1288.7,2131.1 L1311,2122.4 L1328.3,2116.3 L1348.1,2110 L1375.4,2097.7 L1394,2084 L1412.5,2068 L1432.4,2058 L1454.6,2038.2 L1472,2023.4 L1491.8,2008.5 L1507.9,1993.4 L1532,1984.1 L1550.6,1974.8 L1565.5,1960 L1576.6,1946.9 L1587.7,1933.9 L1597,1922.8 L1619.3,1909.8 L1632.3,1894.9 L1643.5,1880 L1663.9,1867 L1673.2,1851.2 L1678.8,1839.2 L1691.8,1824.3 L1710.4,1809.4 L1732.6,1793.7 L1738.2,1776" fill="none" stroke="#000" stroke-width="1.8"/>
<circle cx="1475.5" cy="2004" r="12" fill="#000" stroke="#000" stroke-width="3"/><circle cx="1484.9" cy="1996.5" r="12" fill="#000" stroke="#000" stroke-width="3"/><circle cx="1493.6" cy="1988.3" r="12" fill="#000" stroke="#000" stroke-width="3"/><circle cx="1503.4" cy="1981.7" r="12" fill="#000" stroke="#000" stroke-width="3"/><circle cx="1514.6" cy="1977.4" r="12" fill="#000" stroke="#000" stroke-width="3"/><circle cx="1525.6" cy="1972.8" r="12" fill="#000" stroke="#000" stroke-width="3"/><circle cx="1536.4" cy="1967.4" r="12" fill="#000" stroke="#000" stroke-width="3"/><circle cx="1546" cy="1960.5" r="12" fill="#000" stroke="#000" stroke-width="3"/><circle cx="1554.5" cy="1952" r="12" fill="#000" stroke="#000" stroke-width="3"/><circle cx="1562.4" cy="1943" r="12" fill="#000" stroke="#000" stroke-width="3"/><circle cx="1570.2" cy="1933.9" r="12" fill="#000" stroke="#000" stroke-width="3"/><circle cx="1578" cy="1924.7" r="12" fill="#000" stroke="#000" stroke-width="3"/><circle cx="1585.7" cy="1915.5" r="12" fill="#000" stroke="#000" stroke-width="3"/><circle cx="1595.3" cy="1908.6" r="12" fill="#000" stroke="#000" stroke-width="3"/><circle cx="1605.7" cy="1902.5" r="12" fill="#000" stroke="#000" stroke-width="3"/><circle cx="1614.7" cy="1894.8" r="12" fill="#000" stroke="#000" stroke-width="3"/><circle cx="1622.5" cy="1885.8" r="12" fill="#000" stroke="#000" stroke-width="3"/><circle cx="1629.8" cy="1876.2" r="12" fill="#000" stroke="#000" stroke-width="3"/><circle cx="1638.1" cy="1867.7" r="12" fill="#000" stroke="#000" stroke-width="3"/><circle cx="1648.2" cy="1861.3" r="12" fill="#000" stroke="#000" stroke-width="3"/><circle cx="1656.9" cy="1853.5" r="12" fill="#000" stroke="#000" stroke-width="3"/><circle cx="1663" cy="1843.2" r="12" fill="#000" stroke="#000" stroke-width="3"/><circle cx="1668.3" cy="1832.4" r="12" fill="#000" stroke="#000" stroke-width="3"/><circle cx="1675.4" cy="1822.8" r="12" fill="#000" stroke="#000" stroke-width="3"/><circle cx="1683.3" cy="1813.9" r="12" fill="#000" stroke="#000" stroke-width="3"/><circle cx="1692.7" cy="1806.4" r="12" fill="#000" stroke="#000" stroke-width="3"/><circle cx="1707" cy="1795.4" r="12" fill="#000" stroke="#000" stroke-width="3"/><circle cx="1721.7" cy="1785" r="12" fill="#000" stroke="#000" stroke-width="3"/><circle cx="1729.2" cy="1766" r="12" fill="#000" stroke="#000" stroke-width="3"/>
<circle cx="254" cy="2466" r="12" fill="#0f0" stroke="#000" stroke-width="3"/><circle cx="257.2" cy="2452.4" r="12" fill="#0f0" stroke="#000" stroke-width="3"/><circle cx="262.5" cy="2439.5" r="12" fill="#0f0" stroke="#000" stroke-width="3"/><circle cx="267.8" cy="2426.5" r="12" fill="#0f0" stroke="#000" stroke-width="3"/><circle cx="272.5" cy="2413.3" r="12" fill="#0f0" stroke="#000" stroke-width="3"/><circle cx="277.2" cy="2400.1" r="12" fill="#0f0" stroke="#000" stroke-width="3"/><circle cx="282.6" cy="2387.2" r="12" fill="#0f0" stroke="#000" stroke-width="3"/><circle cx="290.3" cy="2375.6" r="12" fill="#0f0" stroke="#000" stroke-width="3"/><circle cx="297.1" cy="2367.5" r="12" fill="#0f0" stroke="#000" stroke-width="3"/><circle cx="303.8" cy="2359.5" r="12" fill="#0f0" stroke="#000" stroke-width="3"/><circle cx="311.2" cy="2352" r="12" fill="#0f0" stroke="#000" stroke-width="3"/><circle cx="319.4" cy="2345.5" r="12" fill="#0f0" stroke="#000" stroke-width="3"/><circle cx="328" cy="2339.4" r="12" fill="#0f0" stroke="#000" stroke-width="3"/><circle cx="337.6" cy="2335.3" r="12" fill="#0f0" stroke="#000" stroke-width="3"/><circle cx="347.6" cy="2332.1" r="12" fill="#0f0" stroke="#000" stroke-width="3"/><circle cx="357.7" cy="2329.2" r="12" fill="#0f0" stroke="#000" stroke-width="3"/><circle cx="367.8" cy="2326.3" r="12" fill="#0f0" stroke="#000" stroke-width="3"/><circle cx="378" cy="2324.2" r="12" fill="#0f0" stroke="#000" stroke-width="3"/><circle cx="388.3" cy="2322.2" r="12" fill="#0f0" stroke="#000" stroke-width="3"/><circle cx="398.7" cy="2320.4" r="12" fill="#0f0" stroke="#000" stroke-width="3"/><circle cx="409.1" cy="2319.4" r="12" fill="#0f0" stroke="#000" stroke-width="3"/><circle cx="419.5" cy="2317.9" r="12" fill="#0f0" stroke="#000" stroke-width="3"/><circle cx="429.9" cy="2316.3" r="12" fill="#0f0" stroke="#000" stroke-width="3"/><circle cx="440.3" cy="2314.7" r="12" fill="#0f0" stroke="#000" stroke-width="3"/><circle cx="450.7" cy="2313.7" r="12" fill="#0f0" stroke="#000" stroke-width="3"/><circle cx="461.2" cy="2312.6" r="12" fill="#0f0" stroke="#000" stroke-width="3"/><circle cx="471.6" cy="2311.4" r="12" fill="#0f0" stroke="#000" stroke-width="3"/><circle cx="481.9" cy="2309.2" r="12" fill="#0f0" stroke="#000" stroke-width="3"/><circle cx="492.2" cy="2307.6" r="12" fill="#0f0" stroke="#000" stroke-width="3"/><circle cx="502.7" cy="2306.5" r="12" fill="#0f0" stroke="#000" stroke-width="3"/><circle cx="513.1" cy="2305.5" r="12" fill="#0f0" stroke="#000" stroke-width="3"/><circle cx="523.5" cy="2304.2" r="12" fill="#0f0" stroke="#000" stroke-width="3"/><circle cx="533.9" cy="2302.7" r="12" fill="#0f0" stroke="#000" stroke-width="3"/><circle cx="544.3" cy="2301.1" r="12" fill="#0f0" stroke="#000" stroke-width="3"/><circle cx="554.7" cy="2299.8" r="12" fill="#0f0" stroke="#000" stroke-width="3"/><circle cx="565.2" cy="2298.7" r="12" fill="#0f0" stroke="#000" stroke-width="3"/><circle cx="580.6" cy="2297.2" r="12" fill="#0f0" stroke="#000" stroke-width="3"/><circle cx="599" cy="2294" r="12" fill="#0f0" stroke="#000" stroke-width="3"/><circle cx="636.3" cy="2289.5" r="12" fill="#0f0" stroke="#000" stroke-width="3"/><circle cx="658" cy="2284.8" r="12" fill="#0f0" stroke="#000" stroke-width="3"/><circle cx="685.8" cy="2280.2" r="12" fill="#0f0" stroke="#000" stroke-width="3"/><circle cx="710.8" cy="2278.2" r="12" fill="#0f0" stroke="#000" stroke-width="3"/><circle cx="743.3" cy="2273.5" r="12" fill="#0f0" stroke="#000" stroke-width="3"/><circle cx="781.1" cy="2268.9" r="12" fill="#0f0" stroke="#000" stroke-width="3"/><circle cx="803.7" cy="2264.2" r="12" fill="#0f0" stroke="#000" stroke-width="3"/><circle cx="830" cy="2259.6" r="12" fill="#0f0" stroke="#000" stroke-width="3"/><circle cx="871.2" cy="2253.4" r="12" fill="#0f0" stroke="#000" stroke-width="3"/><circle cx="895" cy="2248.8" r="12" fill="#0f0" stroke="#000" stroke-width="3"/><circle cx="927.6" cy="2239.5" r="12" fill="#0f0" stroke="#000" stroke-width="3"/><circle cx="946.1" cy="2231.7" r="12" fill="#0f0" stroke="#000" stroke-width="3"/><circle cx="984.8" cy="2225.5" r="12" fill="#0f0" stroke="#000" stroke-width="3"/><circle cx="1009" cy="2215.6" r="12" fill="#0f0" stroke="#000" stroke-width="3"/><circle cx="1043.7" cy="2214.7" r="12" fill="#0f0" stroke="#000" stroke-width="3"/><circle cx="1070" cy="2208.5" r="12" fill="#0f0" stroke="#000" stroke-width="3"/><circle cx="1099.4" cy="2200.8" r="12" fill="#0f0" stroke="#000" stroke-width="3"/><circle cx="1126.6" cy="2193" r="12" fill="#0f0" stroke="#000" stroke-width="3"/><circle cx="1145.8" cy="2185.3" r="12" fill="#0f0" stroke="#000" stroke-width="3"/><circle cx="1165.3" cy="2176" r="12" fill="#0f0" stroke="#000" stroke-width="3"/><circle cx="1192.3" cy="2168.3" r="12" fill="#0f0" stroke="#000" stroke-width="3"/><circle cx="1210" cy="2157" r="12" fill="#0f0" stroke="#000" stroke-width="3"/><circle cx="1229.3" cy="2146" r="12" fill="#0f0" stroke="#000" stroke-width="3"/><circle cx="1250" cy="2141" r="12" fill="#0f0" stroke="#000" stroke-width="3"/><circle cx="1268.9" cy="2137.3" r="12" fill="#0f0" stroke="#000" stroke-width="3"/><circle cx="1288.7" cy="2131.1" r="12" fill="#0f0" stroke="#000" stroke-width="3"/><circle cx="1311" cy="2122.4" r="12" fill="#0f0" stroke="#000" stroke-width="3"/><circle cx="1328.3" cy="2116.3" r="12" fill="#0f0" stroke="#000" stroke-width="3"/><circle cx="1348.1" cy="2110" r="12" fill="#0f0" stroke="#000" stroke-width="3"/><circle cx="1366.3" cy="2101.8" r="12" fill="#0f0" stroke="#000" stroke-width="3"/><circle cx="1383.5" cy="2091.7" r="12" fill="#0f0" stroke="#000" stroke-width="3"/><circle cx="1399.3" cy="2079.4" r="12" fill="#0f0" stroke="#000" stroke-width="3"/><circle cx="1408.3" cy="2071.6" r="12" fill="#0f0" stroke="#000" stroke-width="3"/><circle cx="1418.3" cy="2065.1" r="12" fill="#0f0" stroke="#000" stroke-width="3"/><circle cx="1429" cy="2059.7" r="12" fill="#0f0" stroke="#000" stroke-width="3"/><circle cx="1438.5" cy="2052.5" r="12" fill="#0f0" stroke="#000" stroke-width="3"/><circle cx="1447.5" cy="2044.5" r="12" fill="#0f0" stroke="#000" stroke-width="3"/><circle cx="1456.5" cy="2036.6" r="12" fill="#0f0" stroke="#000" stroke-width="3"/><circle cx="1465.6" cy="2028.8" r="12" fill="#0f0" stroke="#000" stroke-width="3"/><circle cx="1474.9" cy="2021.2" r="12" fill="#0f0" stroke="#000" stroke-width="3"/><circle cx="1484.5" cy="2014" r="12" fill="#0f0" stroke="#000" stroke-width="3"/><circle cx="1493.9" cy="2006.5" r="12" fill="#0f0" stroke="#000" stroke-width="3"/><circle cx="1502.6" cy="1998.3" r="12" fill="#0f0" stroke="#000" stroke-width="3"/><circle cx="1512.4" cy="1991.7" r="12" fill="#0f0" stroke="#000" stroke-width="3"/><circle cx="1523.6" cy="1987.4" r="12" fill="#0f0" stroke="#000" stroke-width="3"/><circle cx="1534.6" cy="1982.8" r="12" fill="#0f0" stroke="#000" stroke-width="3"/><circle cx="1545.4" cy="1977.4" r="12" fill="#0f0" stroke="#000" stroke-width="3"/><circle cx="1555" cy="1970.5" r="12" fill="#0f0" stroke="#000" stroke-width="3"/><circle cx="1563.5" cy="1962" r="12" fill="#0f0" stroke="#000" stroke-width="3"/><circle cx="1571.4" cy="1953" r="12" fill="#0f0" stroke="#000" stroke-width="3"/><circle cx="1579.2" cy="1943.9" r="12" fill="#0f0" stroke="#000" stroke-width="3"/><circle cx="1587" cy="1934.7" r="12" fill="#0f0" stroke="#000" stroke-width="3"/><circle cx="1594.7" cy="1925.5" r="12" fill="#0f0" stroke="#000" stroke-width="3"/><circle cx="1604.3" cy="1918.6" r="12" fill="#0f0" stroke="#000" stroke-width="3"/><circle cx="1614.7" cy="1912.5" r="12" fill="#0f0" stroke="#000" stroke-width="3"/><circle cx="1623.7" cy="1904.8" r="12" fill="#0f0" stroke="#000" stroke-width="3"/><circle cx="1631.5" cy="1895.8" r="12" fill="#0f0" stroke="#000" stroke-width="3"/><circle cx="1638.8" cy="1886.2" r="12" fill="#0f0" stroke="#000" stroke-width="3"/><circle cx="1647.1" cy="1877.7" r="12" fill="#0f0" stroke="#000" stroke-width="3"/><circle cx="1657.2" cy="1871.3" r="12" fill="#0f0" stroke="#000" stroke-width="3"/><circle cx="1665.9" cy="1863.5" r="12" fill="#0f0" stroke="#000" stroke-width="3"/><circle cx="1672" cy="1853.2" r="12" fill="#0f0" stroke="#000" stroke-width="3"/><circle cx="1677.3" cy="1842.4" r="12" fill="#0f0" stroke="#000" stroke-width="3"/><circle cx="1684.4" cy="1832.8" r="12" fill="#0f0" stroke="#000" stroke-width="3"/><circle cx="1692.3" cy="1823.9" r="12" fill="#0f0" stroke="#000" stroke-width="3"/><circle cx="1701.7" cy="1816.4" r="12" fill="#0f0" stroke="#000" stroke-width="3"/><circle cx="1716" cy="1805.4" r="12" fill="#0f0" stroke="#000" stroke-width="3"/><circle cx="1730.7" cy="1795" r="12" fill="#0f0" stroke="#000" stroke-width="3"/><circle cx="1738.2" cy="1776" r="12" fill="#0f0" stroke="#000" stroke-width="3"/>
<circle cx="254" cy="2467" r="12" fill="#f00" stroke="#000" stroke-width="3"/>
<path d="M254,2468 254.3,2466 254.6,2464 254.9,2462.1 255.2,2460.1 255.5,2458.1 255.8,2456.1 256.1,2454.2 256.4,2452.2 256.7,2450.2 257,2448.2 257.3,2446.2 257.6,2444.3 257.9,2442.3 258.1,2440.3 258.4,2438.3 258.7,2436.3 259,2434.4 259.2,2432.4 259.5,2430.4 259.8,2428.4 260.1,2426.4 260.4,2424.5 260.7,2422.5 261,2420.5 261.4,2418.5 261.7,2416.6 262,2414.6 262.3,2412.6 262.6,2410.6 262.8,2408.6 263.1,2406.7 263.3,2404.7 263.5,2402.7 263.7,2400.7 263.9,2398.7 264.1,2396.7 264.3,2394.7 264.5,2392.7 264.7,2390.7 264.9,2388.7 265.1,2386.7 265.3,2384.8 265.5,2382.8 265.7,2380.8 265.9,2378.8 266.1,2376.8 266.3,2374.8 266.5,2372.8 266.7,2370.8 266.9,2368.8 267.1,2366.8 267.3,2364.8 267.5,2362.9 267.6,2360.9 267.8,2358.9 268,2356.9 268.2,2354.9 268.5,2352.9 268.8,2350.9 269,2348.9 269.4,2347 269.7,2345 270,2343 270.4,2341.1 270.7,2339.1 271.1,2337.1 271.5,2335.2 271.9,2333.2 272.3,2331.2 272.7,2329.3 273.2,2327.3 273.6,2325.4 274.1,2323.4 274.6,2321.5 275.1,2319.6 275.7,2317.6 276.2,2315.7 276.8,2313.8 277.3,2311.9 277.9,2310 278.5,2308 279,2306.1 279.6,2304.2 280.1,2302.3 280.7,2300.4 281.3,2298.5 282,2296.6 282.7,2294.7 283.5,2292.9 284.4,2291.1 285.4,2289.3 286.4,2287.6 287.4,2285.9 288.5,2284.2 289.6,2282.5 290.7,2280.9 291.9,2279.3 293.1,2277.6 294.2,2276 295.4,2274.4 296.7,2272.9 298,2271.3 299.3,2269.8 300.6,2268.3 302,2266.9 303.4,2265.5 304.9,2264.1 306.4,2262.8 307.9,2261.5 309.4,2260.2 311,2259 312.6,2257.8 314.3,2256.7 316,2255.6 317.7,2254.6 319.4,2253.6 321.2,2252.7 323,2251.9 324.9,2251.1 326.7,2250.3 328.6,2249.6 330.4,2248.8 332.3,2248.1 334.1,2247.3 336,2246.5 337.8,2245.7 339.7,2245 341.5,2244.2 343.3,2243.4 345.2,2242.7 347.1,2241.9 348.9,2241.2 350.8,2240.5 352.7,2239.8 354.5,2239.1 356.4,2238.4 358.3,2237.8 360.2,2237.2 362.1,2236.6 364,2235.9 365.9,2235.3 367.8,2234.7 369.7,2234.1 371.6,2233.5 373.5,2232.8 375.4,2232.2 377.3,2231.5 379.2,2230.8 381.1,2230.1 383,2229.4 384.8,2228.7 386.7,2228 388.6,2227.3 390.4,2226.6 392.3,2225.8 394.1,2225.1 396,2224.3 397.8,2223.6 399.7,2222.8 401.5,2222 403.4,2221.3 405.2,2220.5 407.1,2219.8 409,2219.1 410.9,2218.4 412.8,2217.8 414.7,2217.1 416.6,2216.5 418.5,2216 420.4,2215.4 422.3,2214.8 424.2,2214.3 426.2,2213.7 428.1,2213.2 430,2212.7 432,2212.2 433.9,2211.6 435.8,2211.1 437.7,2210.6 439.7,2210.1 441.6,2209.6 443.6,2209.1 445.5,2208.6 447.4,2208.1 449.4,2207.6 451.3,2207.1 453.3,2206.7 455.2,2206.2 457.2,2205.8 459.1,2205.4 461.1,2204.9 463,2204.5 465,2204.1 467,2203.7 468.9,2203.3 470.9,2202.9 472.8,2202.5 474.8,2202.1 476.8,2201.7 478.7,2201.4 480.7,2201 482.7,2200.6 484.6,2200.3 486.6,2199.9 488.6,2199.6 490.5,2199.2 492.5,2198.9 494.5,2198.5 496.5,2198.2 498.4,2197.9 500.4,2197.6 502.4,2197.3 504.4,2197 506.3,2196.7 508.3,2196.4 510.3,2196.1 512.3,2195.8 514.3,2195.6 516.2,2195.3 518.2,2195 520.2,2194.8 522.2,2194.6 524.2,2194.3 526.2,2194.1 528.2,2193.9 530.2,2193.7 532.2,2193.5 534.1,2193.3 536.1,2193.1 538.1,2193 540.1,2192.8 542.1,2192.6 544.1,2192.5 546.1,2192.3 548.1,2192.1 550.1,2192 552.1,2191.8 554.1,2191.6 556.1,2191.5 558.1,2191.3 560.1,2191.2 562.1,2191 564.1,2190.9 566,2190.7 568,2190.5 570,2190.4 572,2190.2 574,2190.1 576,2189.9 578,2189.8 580,2189.6 582,2189.5 584,2189.3 586,2189.2 588,2189.1 590,2188.9 592,2188.8 594,2188.6 596,2188.5 598,2188.3 600,2188.2 602,2188 604,2187.9 605.9,2187.7 607.9,2187.6 609.9,2187.4 611.9,2187.3 613.9,2187.1 615.9,2187 617.9,2186.8 619.9,2186.7 621.9,2186.5 623.9,2186.4 625.9,2186.3 627.9,2186.1 629.9,2186 631.9,2185.9 633.9,2185.7 635.9,2185.6 637.9,2185.4 639.9,2185.3 641.9,2185.2 643.9,2185 645.9,2184.9 647.9,2184.7 649.9,2184.6 651.8,2184.5 653.8,2184.3 655.8,2184.2 657.8,2184 659.8,2183.9 661.8,2183.7 663.8,2183.5 665.8,2183.4 667.8,2183.2 669.8,2183 671.8,2182.8 673.8,2182.7 675.8,2182.5 677.8,2182.3 679.8,2182.1 681.7,2181.9 683.7,2181.7 685.7,2181.5 687.7,2181.3 689.7,2181.1 691.7,2180.9 693.7,2180.7 695.7,2180.5 697.7,2180.3 699.7,2180 701.6,2179.8 703.6,2179.6 705.6,2179.4 707.6,2179.2 709.6,2179 711.6,2178.7 713.6,2178.5 715.6,2178.3 717.6,2178 719.5,2177.8 721.5,2177.6 723.5,2177.3 725.5,2177.1 727.5,2176.9 729.5,2176.6 731.5,2176.4 733.4,2176.1 735.4,2175.9 737.4,2175.6 739.4,2175.4 741.4,2175.1 743.4,2174.8 745.3,2174.5 747.3,2174.1 749.3,2173.8 751.2,2173.4 753.2,2173 755.2,2172.6 757.1,2172.3 759.1,2171.9 761.1,2171.5 763,2171.2 765,2170.9 767,2170.5 769,2170.2 770.9,2169.8 772.9,2169.5 774.9,2169.2 776.8,2168.8 778.8,2168.5 780.8,2168.1 782.8,2167.8 784.7,2167.5 786.7,2167.1 788.7,2166.8 790.6,2166.4 792.6,2166.1 794.6,2165.8 796.6,2165.4 798.5,2165.1 800.5,2164.7 802.5,2164.4 804.4,2164 806.4,2163.7 808.4,2163.3 810.3,2163 812.3,2162.6 814.3,2162.3 816.2,2161.9 818.2,2161.5 820.2,2161.2 822.2,2160.8 824.1,2160.4 826.1,2160.1 828,2159.7 830,2159.3 832,2158.9 833.9,2158.6 835.9,2158.2 837.9,2157.8 839.8,2157.4 841.8,2157.1 843.8,2156.7 845.7,2156.3 847.7,2155.9 849.7,2155.5 851.6,2155.1 853.6,2154.7 855.5,2154.3 857.5,2153.9 859.5,2153.5 861.4,2153.2 863.4,2152.8 865.3,2152.4 867.3,2152 869.3,2151.6 871.2,2151.1 873.2,2150.7 875.1,2150.3 877.1,2149.9 879.1,2149.5 881,2149.1 883,2148.7 884.9,2148.3 886.9,2147.9 888.8,2147.5 890.8,2147 892.8,2146.6 894.7,2146.2 896.7,2145.8 898.6,2145.4 900.6,2145 902.6,2144.6 904.5,2144.2 906.5,2143.8 908.4,2143.4 910.4,2143 912.4,2142.6 914.3,2142.2 916.3,2141.7 918.2,2141.3 920.2,2140.9 922.1,2140.5 924.1,2140 926,2139.6 928,2139.1 929.9,2138.7 931.9,2138.2 933.8,2137.8 935.8,2137.3 937.7,2136.8 939.7,2136.3 941.6,2135.8 943.5,2135.3 945.5,2134.8 947.4,2134.3 949.3,2133.7 951.2,2133.2 953.2,2132.7 955.1,2132.1 957,2131.5 958.9,2131 960.8,2130.4 962.8,2129.8 964.7,2129.2 966.6,2128.6 968.5,2128 970.4,2127.4 972.3,2126.8 974.2,2126.2 976.1,2125.6 978,2124.9 979.9,2124.3 981.8,2123.7 983.7,2123 985.6,2122.4 987.5,2121.8 989.4,2121.1 991.3,2120.5 993.2,2119.8 995.1,2119.2 997,2118.5 998.8,2117.9 1000.7,2117.2 1002.6,2116.5 1004.5,2115.9 1006.4,2115.2 1008.3,2114.6 1010.2,2113.9 1012.1,2113.2 1014,2112.6 1015.8,2111.9 1017.7,2111.3 1019.6,2110.6 1021.5,2110 1023.4,2109.3 1025.3,2108.7 1027.2,2108 1029.1,2107.3 1031,2106.7 1032.9,2106 1034.7,2105.4 1036.6,2104.7 1038.5,2104 1040.4,2103.3 1042.3,2102.6 1044.2,2102 1046,2101.3 1047.9,2100.6 1049.8,2099.9 1051.6,2099.1 1053.5,2098.4 1055.4,2097.7 1057.2,2096.9 1059.1,2096.2 1060.9,2095.4 1062.8,2094.7 1064.6,2093.9 1066.5,2093.1 1068.3,2092.3 1070.1,2091.5 1072,2090.7 1073.8,2089.9 1075.6,2089 1077.4,2088.2 1079.2,2087.3 1081,2086.4 1082.8,2085.5 1084.6,2084.7 1086.4,2083.8 1088.2,2082.9 1089.9,2081.9 1091.7,2081 1093.5,2080.1 1095.3,2079.2 1097,2078.2 1098.8,2077.3 1100.6,2076.4 1102.3,2075.4 1104.1,2074.5 1105.9,2073.5 1107.6,2072.6 1109.4,2071.6 1111.1,2070.6 1112.9,2069.7 1114.6,2068.7 1116.4,2067.8 1118.1,2066.8 1119.9,2065.8 1121.7,2064.9 1123.4,2063.9 1125.2,2062.9 1126.9,2062 1128.7,2061 1130.4,2060 1132.2,2059.1 1133.9,2058.1 1135.7,2057.2 1137.4,2056.2 1139.2,2055.2 1140.9,2054.3 1142.7,2053.3 1144.4,2052.3 1146.2,2051.3 1147.9,2050.3 1149.6,2049.3 1151.4,2048.3 1153.1,2047.3 1154.8,2046.3 1156.5,2045.3 1158.3,2044.3 1160,2043.2 1161.7,2042.2 1163.4,2041.2 1165.2,2040.2 1166.9,2039.2 1168.6,2038.2 1170.4,2037.2 1172.1,2036.2 1173.8,2035.2 1175.5,2034.2 1177.3,2033.2 1179,2032.2 1180.7,2031.2 1182.5,2030.2 1184.2,2029.2 1185.9,2028.1 1187.7,2027.1 1189.4,2026.1 1191.1,2025.1 1192.8,2024.1 1194.6,2023.1 1196.3,2022.1 1198,2021.1 1199.8,2020.1 1201.5,2019.1 1203.2,2018.1 1204.9,2017 1206.6,2016 1208.4,2015 1210.1,2014 1211.8,2012.9 1213.5,2011.9 1215.2,2010.9 1216.9,2009.8 1218.6,2008.7 1220.2,2007.6 1221.9,2006.4 1223.5,2005.2 1225.1,2004.1 1226.8,2003 1228.4,2001.9 1230.1,2000.8 1231.8,1999.7 1233.5,1998.6 1235.2,1997.5 1236.9,1996.5 1238.6,1995.4 1240.2,1994.3 1241.9,1993.2 1243.6,1992.2 1245.3,1991.1 1247,1990 1248.7,1989 1250.4,1987.9 1252.1,1986.8 1253.8,1985.8 1255.5,1984.7 1257.2,1983.6 1258.8,1982.6 1260.5,1981.5 1262.2,1980.4 1263.9,1979.3 1265.6,1978.3 1267.3,1977.2 1269,1976.1 1270.6,1975 1272.3,1973.9 1274,1972.8 1275.6,1971.7 1277.3,1970.5 1278.9,1969.3 1280.5,1968.2 1282.1,1966.9 1283.7,1965.7 1285.2,1964.5 1286.8,1963.3 1288.5,1962.1 1290.1,1960.9 1291.7,1959.8 1293.3,1958.6 1295,1957.5 1296.6,1956.3 1298.3,1955.2 1299.9,1954 1301.5,1952.9 1303.2,1951.8 1304.8,1950.6 1306.5,1949.5 1307.3,1948.9" fill="none" stroke="#00f" stroke-width="3.2" stroke-linecap="round" stroke-dasharray="41 19"/>
<circle cx="319.5" cy="2308.8" r="11.6" fill="#c0c0c0" stroke="#111" stroke-width="1.6"/>
<circle cx="701" cy="2237.4" r="11.6" fill="#c0c0c0" stroke="#111" stroke-width="1.6"/>
<circle cx="1220.1" cy="2078.4" r="11.6" fill="#c0c0c0" stroke="#111" stroke-width="1.6"/>
<circle cx="1456.6" cy="1925" r="11.6" fill="#c0c0c0" stroke="#111" stroke-width="1.6"/>
<circle cx="1667.3" cy="1597.5" r="11.6" fill="#c0c0c0" stroke="#111" stroke-width="1.6"/>
<path d="M302.6,307.7 L318.7,2284.4" fill="none" stroke="#000" stroke-width="2.4" stroke-linecap="round" stroke-dasharray="26.9 12.4"/>
<polyline points="327.5,2252.6 318.7,2284.4 309.3,2252.8" fill="none" stroke="#000" stroke-width="2.0" stroke-linejoin="miter"/>
<path d="M427.4,521.7 428.1,524.6 428.8,527.5 429.5,530.5 430.2,533.4 430.9,536.3 431.5,539.2 432.2,542.2 432.9,545.1 433.5,548 434.1,551 434.7,553.9 435.3,556.8 435.9,559.8 436.5,562.7 437.1,565.7 437.6,568.6 438.1,571.6 438.7,574.5 439.2,577.5 439.7,580.4 440.2,583.4 440.7,586.4 441.3,589.3 441.8,592.3 442.3,595.2 442.8,598.2 443.3,601.1 443.8,604.1 444.3,607.1 444.7,610 445.2,613 445.7,616 446.2,618.9 446.7,621.9 447.2,624.8 447.7,627.8 448.1,630.8 448.6,633.7 449.1,636.7 449.6,639.7 450,642.6 450.5,645.6 451,648.5 451.5,651.5 451.9,654.5 452.4,657.4 452.8,660.4 453.3,663.4 453.8,666.3 454.2,669.3 454.7,672.3 455.1,675.2 455.6,678.2 456,681.2 456.5,684.1 456.9,687.1 457.4,690.1 457.8,693 458.3,696 458.7,699 459.2,701.9 459.6,704.9 460.1,707.9 460.5,710.8 461,713.8 461.5,716.8 461.9,719.7 462.4,722.7 462.8,725.7 463.3,728.7 463.7,731.6 464.2,734.6 464.6,737.5 465.1,740.5 465.6,743.5 466,746.4 466.5,749.4 467,752.4 467.5,755.3 467.9,758.3 468.4,761.3 468.9,764.2 469.4,767.2 469.9,770.1 470.4,773.1 470.9,776.1 471.5,779 472.1,781.9 472.7,784.9 473.2,787.8 473.8,790.8 474.3,793.8 474.8,796.7 475.3,799.7 475.8,802.6 476.3,805.6 476.8,808.5 477.3,811.5 477.8,814.5 478.3,817.4 478.8,820.4 479.2,823.4 479.7,826.3 480.2,829.3 480.7,832.2 481.2,835.2 481.7,838.2 482.1,841.1 482.6,844.1 483.1,847.1 483.6,850 484.1,853 484.5,855.9 485,858.9 485.5,861.9 486,864.8 486.5,867.8 486.9,870.8 487.4,873.7 487.9,876.7 488.4,879.6 488.8,882.6 489.3,885.6 489.8,888.5 490.3,891.5 490.7,894.5 491.2,897.4 491.7,900.4 492.2,903.4 492.6,906.3 493.1,909.3 493.6,912.2 494.1,915.2 494.5,918.2 495,921.1 495.5,924.1 496,927.1 496.4,930 496.9,933 497.4,936 497.9,938.9 498.3,941.9 498.8,944.9 499.3,947.8 499.8,950.8 500.2,953.7 500.7,956.7 501.2,959.7 501.6,962.6 502.1,965.6 502.6,968.6 503.1,971.5 503.5,974.5 504,977.5 504.5,980.4 505,983.4 505.4,986.3 505.9,989.3 506.4,992.3 506.9,995.2 507.3,998.2 507.8,1001.2 508.3,1004.1 508.8,1007.1 509.2,1010.1 509.7,1013 510.2,1016 510.6,1018.9 511.1,1021.9 511.6,1024.9 512.1,1027.8 512.5,1030.8 513,1033.8 513.5,1036.7 514,1039.7 514.4,1042.7 514.9,1045.6 515.4,1048.6 515.8,1051.6 516.3,1054.5 516.8,1057.5 517.3,1060.4 517.7,1063.4 518.2,1066.4 518.7,1069.3 519.2,1072.3 519.6,1075.3 520.1,1078.2 520.6,1081.2 521,1084.2 521.5,1087.1 522,1090.1 522.5,1093 522.9,1096 523.4,1099 523.9,1101.9 524.4,1104.9 524.8,1107.9 525.3,1110.8 525.8,1113.8 526.2,1116.8 526.7,1119.7 527.2,1122.7 527.7,1125.7 528.1,1128.6 528.6,1131.6 529.1,1134.5 529.6,1137.5 530,1140.5 530.5,1143.4 531,1146.4 531.4,1149.4 531.9,1152.3 532.4,1155.3 532.9,1158.3 533.3,1161.2 533.8,1164.2 534.3,1167.2 534.7,1170.1 535.2,1173.1 535.7,1176 536.2,1179 536.6,1182 537.1,1184.9 537.6,1187.9 538,1190.9 538.5,1193.8 539,1196.8 539.5,1199.8 539.9,1202.7 540.4,1205.7 540.9,1208.7 541.4,1211.6 541.8,1214.6 542.3,1217.5 542.8,1220.5 543.2,1223.5 543.7,1226.4 544.2,1229.4 544.7,1232.4 545.1,1235.3 545.6,1238.3 546.1,1241.3 546.5,1244.2 547,1247.2 547.5,1250.2 548,1253.1 548.4,1256.1 548.9,1259 549.4,1262 549.8,1265 550.3,1267.9 550.8,1270.9 551.2,1273.9 551.7,1276.8 552.2,1279.8 552.7,1282.8 553.1,1285.7 553.6,1288.7 554.1,1291.7 554.5,1294.6 555,1297.6 555.5,1300.5 556,1303.5 556.4,1306.5 556.9,1309.4 557.4,1312.4 557.8,1315.4 558.3,1318.3 558.8,1321.3 559.2,1324.3 559.7,1327.2 560.2,1330.2 560.7,1333.2 561.1,1336.1 561.6,1339.1 562.1,1342 562.5,1345 563,1348 563.5,1350.9 563.9,1353.9 564.4,1356.9 564.9,1359.8 565.4,1362.8 565.8,1365.8 566.3,1368.7 566.8,1371.7 567.2,1374.7 567.7,1377.6 568.2,1380.6 568.6,1383.6 569.1,1386.5 569.6,1389.5 570,1392.4 570.5,1395.4 571,1398.4 571.4,1401.3 571.9,1404.3 572.4,1407.3 572.8,1410.2 573.3,1413.2 573.7,1416.2 574.2,1419.1 574.6,1422 574.9,1424.4 575,1425.1 574.6,1423.8 574.2,1422.1 574.1,1421.9 574.2,1423.7 574.6,1426.5 575.1,1429.4 575.5,1432.4 575.9,1435.3 576.4,1438.3 576.8,1441.3 577.3,1444.2 577.7,1447.2 578.2,1450.2 578.6,1453.2 579.1,1456.1 579.5,1459.1 580,1462.1 580.4,1465 580.9,1468 581.4,1471 581.8,1473.9 582.3,1476.9 582.7,1479.9 583.2,1482.8 583.6,1485.8 584.1,1488.8 584.5,1491.7 585,1494.7 585.4,1497.7 585.9,1500.6 586.3,1503.6 586.8,1506.6 587.3,1509.5 587.7,1512.5 588.2,1515.5 588.6,1518.4 589.1,1521.4 589.5,1524.4 590,1527.3 590.4,1530.3 590.9,1533.3 591.3,1536.2 591.8,1539.2 592.3,1542.2 592.7,1545.1 593.2,1548.1 593.6,1551.1 594.1,1554 594.5,1557 595,1560 595.4,1562.9 595.9,1565.9 596.4,1568.9 596.8,1571.8 597.3,1574.8 597.7,1577.8 598.2,1580.7 598.6,1583.7 599.1,1586.7 599.5,1589.6 600,1592.6 600.5,1595.6 600.9,1598.5 601.4,1601.5 601.8,1604.5 602.3,1607.4 602.7,1610.4 603.2,1613.4 603.6,1616.3 604.1,1619.3 604.6,1622.3 605,1625.2 605.5,1628.2 605.9,1631.2 606.4,1634.1 606.8,1637.1 607.3,1640.1 607.8,1643 608.2,1646 608.7,1649 609.1,1651.9 609.6,1654.9 610,1657.9 610.5,1660.8 610.9,1663.8 611.4,1666.8 611.9,1669.7 612.3,1672.7 612.8,1675.7 613.2,1678.6 613.7,1681.6 614.1,1684.6 614.6,1687.5 615.1,1690.5 615.5,1693.5 616,1696.4 616.4,1699.4 616.9,1702.4 617.3,1705.3 617.8,1708.3 618.3,1711.3 618.7,1714.2 619.2,1717.2 619.6,1720.2 620.1,1723.1 620.6,1726.1 621,1729.1 621.5,1732 621.9,1735 622.4,1738 622.8,1740.9 623.3,1743.9 623.8,1746.9 624.2,1749.8 624.7,1752.8 625.1,1755.8 625.6,1758.7 626.1,1761.7 626.5,1764.7 627,1767.6 627.4,1770.6 627.9,1773.6 628.4,1776.5 628.8,1779.5 629.3,1782.4 629.7,1785.4 630.2,1788.4 630.7,1791.3 631.1,1794.3 631.6,1797.3 632,1800.2 632.5,1803.2 633,1806.2 633.4,1809.1 633.9,1812.1 634.3,1815.1 634.8,1818 635.3,1821 635.7,1824 636.2,1826.9 636.7,1829.9 637.1,1832.9 637.6,1835.8 638,1838.8 638.5,1841.8 639,1844.7 639.4,1847.7 639.9,1850.7 640.4,1853.6 640.9,1856.6 641.3,1859.6 641.8,1862.5 642.3,1865.5 642.7,1868.4 643.2,1871.4 643.7,1874.4 644.2,1877.3 644.7,1880.3 645.1,1883.3 645.6,1886.2 646.1,1889.2 646.6,1892.1 647.1,1895.1 647.5,1898.1 648,1901 648.5,1904 649,1907 649.5,1909.9 650,1912.9 650.5,1915.8 650.9,1918.8 651.4,1921.8 651.9,1924.7 652.4,1927.7 652.9,1930.6 653.4,1933.6 653.9,1936.6 654.4,1939.5 654.9,1942.5 655.4,1945.5 655.8,1948.4 656.3,1951.4 656.8,1954.3 657.3,1957.3 657.8,1960.3 658.3,1963.2 658.7,1966.2 659.2,1969.2 659.7,1972.1 660.2,1975.1 660.6,1978 661.1,1981 661.6,1984 662.1,1986.9 662.5,1989.9 663,1992.9 663.4,1995.8 663.9,1998.8 664.4,2001.8 664.8,2004.7 665.3,2007.7 665.8,2010.7 666.2,2013.6 666.7,2016.6 667.1,2019.6 667.6,2022.5 668,2025.5 668.5,2028.5 669,2031.4 669.4,2034.4 669.9,2037.4 670.3,2040.3 670.8,2043.3 671.2,2046.3 671.7,2049.2 672.1,2052.2 672.6,2055.2 673,2058.1 673.5,2061.1 673.9,2064.1 674.4,2067 674.8,2070 675.3,2073 675.7,2075.9 676.2,2078.9 676.6,2081.9 677.1,2084.8 677.5,2087.8 678,2090.8 678.4,2093.7 678.9,2096.7 679.3,2099.7 679.8,2102.6 680.2,2105.6 680.7,2108.6 681.1,2111.6 681.6,2114.5 682,2117.5 682.5,2120.5 682.9,2123.4 683.4,2126.4 683.8,2129.4 684.3,2132.3 684.7,2135.3 685.2,2138.3 685.6,2141.2 686.1,2144.2 686.5,2147.2 687,2150.1 687.4,2153.1 687.9,2156.1 688.3,2159 688.8,2162 689.2,2165 689.6,2167.9 690.1,2170.9 690.5,2173.9 691,2176.8 691.4,2179.8 691.9,2182.8 692.3,2185.7 692.8,2188.7 693.2,2191.7 693.7,2194.7 694.1,2197.6 694.6,2200.6 695,2203.6 695.5,2206.5 695.9,2209.5 696.4,2212.5 696.8,2215.4 697.3,2218.4 697.7,2221.4 698.2,2224.3 698.6,2227.3" fill="none" stroke="#000" stroke-width="2.4" stroke-linecap="round" stroke-dasharray="27.4 12.6"/>
<polyline points="702.8,2194.6 698.6,2227.3 684.8,2197.3" fill="none" stroke="#000" stroke-width="2.0" stroke-linejoin="miter"/>
<path d="M541.4,680.2 L1211.9,2066.7" fill="none" stroke="#000" stroke-width="2.4" stroke-linecap="round" stroke-dasharray="30.3 13.6"/>
<polyline points="1206.3,2034.2 1211.9,2066.7 1189.9,2042.1" fill="none" stroke="#000" stroke-width="2.0" stroke-linejoin="miter"/>
<path d="M662.5,665.5 L1447.2,1919.3" fill="none" stroke="#000" stroke-width="2.4" stroke-linecap="round" stroke-dasharray="32.4 14.3"/>
<polyline points="1438.1,1887.6 1447.2,1919.3 1422.7,1897.2" fill="none" stroke="#000" stroke-width="2.0" stroke-linejoin="miter"/>
<path d="M1655.6,605.5 L1664.7,1582.4" fill="none" stroke="#000" stroke-width="2.4" stroke-linecap="round" stroke-dasharray="26.9 12.4"/>
<polyline points="1673.5,1550.6 1664.7,1582.4 1655.3,1550.8" fill="none" stroke="#000" stroke-width="2.0" stroke-linejoin="miter"/>
<rect x="335" y="1447" width="1139" height="380" fill="#fff" stroke="#000" stroke-width="3.1"/>
<line x1="366.5" y1="1506.4" x2="546" y2="1506.4" stroke="#000" stroke-width="2.7" stroke-linecap="round"/>
<circle cx="455.6" cy="1506.4" r="12.1" fill="#000" stroke="#000" stroke-width="3"/>
<text x="590.7" y="1525" font-size="52.8">HDPE (dry)</text>
<line x1="366.5" y1="1571.4" x2="546" y2="1571.4" stroke="#000" stroke-width="2.7" stroke-linecap="round"/>
<circle cx="455.6" cy="1571.4" r="12.1" fill="#00f" stroke="#000" stroke-width="3"/>
<text x="590.7" y="1590" font-size="52.8">HDPE (swollen with chloroform)</text>
<line x1="366.5" y1="1636.4" x2="546" y2="1636.4" stroke="#000" stroke-width="2.7" stroke-linecap="round"/>
<circle cx="455.6" cy="1636.4" r="12.1" fill="#f00" stroke="#000" stroke-width="3"/>
<text x="590.7" y="1655" font-size="52.8">HDPE/wax (dry)</text>
<line x1="366.5" y1="1701.4" x2="546" y2="1701.4" stroke="#000" stroke-width="2.7" stroke-linecap="round"/>
<circle cx="455.6" cy="1701.4" r="12.1" fill="#0f0" stroke="#000" stroke-width="3"/>
<text x="590.7" y="1720" font-size="52.8">HDPE/wax (swollen with chloroform)</text>
<line x1="367.5" y1="1766.4" x2="528" y2="1766.4" stroke="#00f" stroke-width="3.6" stroke-linecap="round" stroke-dasharray="41 19"/>
<text x="590.7" y="1785" font-size="52.8">HDPE (dry) - uniaxial compression</text>
</svg></body></html>
